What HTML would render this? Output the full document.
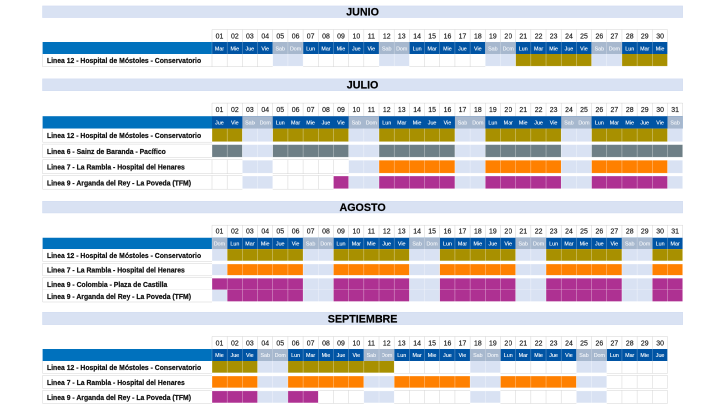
<!DOCTYPE html>
<html lang="es"><head><meta charset="utf-8"><title>Calendario de obras - Metro</title>
<style>
html,body{margin:0;padding:0;background:#fff;}
body{width:720px;height:405px;overflow:hidden;position:relative;font-family:"Liberation Sans",sans-serif;}
#outer{position:absolute;left:0;top:0;width:1440px;height:810px;transform:scale(.5);transform-origin:0 0;will-change:transform;background:#fff;}
#stage{position:absolute;left:0;top:0;width:1920px;height:1080px;transform:scale(.75);transform-origin:0 0;}
#stage svg{position:absolute;left:0;top:0;}
.t{position:absolute;white-space:nowrap;overflow:visible;}
.title{text-align:center;font-weight:bold;font-size:28.6px;color:#000;margin-top:0px;-webkit-text-stroke:0.5px #000;}
.num{text-align:center;font-size:19px;color:#222;transform:scaleX(.97);margin-top:0.3px;-webkit-text-stroke:0.5px #222;}
.dn{text-align:center;font-size:15px;color:#fff;transform:scaleX(.95);margin-top:0.5px;-webkit-text-stroke:0.3px currentColor;}
.dn.we{color:#f2f5f9;}
.lab{font-weight:bold;font-size:19.3px;color:#111;text-indent:13px;transform:scaleX(.945);transform-origin:0 50%;margin-top:2px;-webkit-text-stroke:0.6px #111;}
</style></head><body>
<div id="outer"><div id="stage">
<svg width="1920" height="1080" viewBox="0 0 720 405">
<rect x="42.30" y="5.70" width="640.60" height="12.10" fill="#D9E2F3"/>
<rect x="42.60" y="6.00" width="640.00" height="11.50" fill="none" stroke="#cfdaf0" stroke-width="0.4"/>
<line x1="212.00" y1="29.60" x2="667.49" y2="29.60" stroke="#c8c8c8" stroke-width="0.4"/>
<line x1="212.00" y1="29.60" x2="212.00" y2="42.00" stroke="#c8c8c8" stroke-width="0.4"/>
<line x1="227.18" y1="29.60" x2="227.18" y2="42.00" stroke="#c8c8c8" stroke-width="0.4"/>
<line x1="242.37" y1="29.60" x2="242.37" y2="42.00" stroke="#c8c8c8" stroke-width="0.4"/>
<line x1="257.55" y1="29.60" x2="257.55" y2="42.00" stroke="#c8c8c8" stroke-width="0.4"/>
<line x1="272.73" y1="29.60" x2="272.73" y2="42.00" stroke="#c8c8c8" stroke-width="0.4"/>
<line x1="287.91" y1="29.60" x2="287.91" y2="42.00" stroke="#c8c8c8" stroke-width="0.4"/>
<line x1="303.10" y1="29.60" x2="303.10" y2="42.00" stroke="#c8c8c8" stroke-width="0.4"/>
<line x1="318.28" y1="29.60" x2="318.28" y2="42.00" stroke="#c8c8c8" stroke-width="0.4"/>
<line x1="333.46" y1="29.60" x2="333.46" y2="42.00" stroke="#c8c8c8" stroke-width="0.4"/>
<line x1="348.65" y1="29.60" x2="348.65" y2="42.00" stroke="#c8c8c8" stroke-width="0.4"/>
<line x1="363.83" y1="29.60" x2="363.83" y2="42.00" stroke="#c8c8c8" stroke-width="0.4"/>
<line x1="379.01" y1="29.60" x2="379.01" y2="42.00" stroke="#c8c8c8" stroke-width="0.4"/>
<line x1="394.20" y1="29.60" x2="394.20" y2="42.00" stroke="#c8c8c8" stroke-width="0.4"/>
<line x1="409.38" y1="29.60" x2="409.38" y2="42.00" stroke="#c8c8c8" stroke-width="0.4"/>
<line x1="424.56" y1="29.60" x2="424.56" y2="42.00" stroke="#c8c8c8" stroke-width="0.4"/>
<line x1="439.75" y1="29.60" x2="439.75" y2="42.00" stroke="#c8c8c8" stroke-width="0.4"/>
<line x1="454.93" y1="29.60" x2="454.93" y2="42.00" stroke="#c8c8c8" stroke-width="0.4"/>
<line x1="470.11" y1="29.60" x2="470.11" y2="42.00" stroke="#c8c8c8" stroke-width="0.4"/>
<line x1="485.29" y1="29.60" x2="485.29" y2="42.00" stroke="#c8c8c8" stroke-width="0.4"/>
<line x1="500.48" y1="29.60" x2="500.48" y2="42.00" stroke="#c8c8c8" stroke-width="0.4"/>
<line x1="515.66" y1="29.60" x2="515.66" y2="42.00" stroke="#c8c8c8" stroke-width="0.4"/>
<line x1="530.84" y1="29.60" x2="530.84" y2="42.00" stroke="#c8c8c8" stroke-width="0.4"/>
<line x1="546.03" y1="29.60" x2="546.03" y2="42.00" stroke="#c8c8c8" stroke-width="0.4"/>
<line x1="561.21" y1="29.60" x2="561.21" y2="42.00" stroke="#c8c8c8" stroke-width="0.4"/>
<line x1="576.39" y1="29.60" x2="576.39" y2="42.00" stroke="#c8c8c8" stroke-width="0.4"/>
<line x1="591.58" y1="29.60" x2="591.58" y2="42.00" stroke="#c8c8c8" stroke-width="0.4"/>
<line x1="606.76" y1="29.60" x2="606.76" y2="42.00" stroke="#c8c8c8" stroke-width="0.4"/>
<line x1="621.94" y1="29.60" x2="621.94" y2="42.00" stroke="#c8c8c8" stroke-width="0.4"/>
<line x1="637.12" y1="29.60" x2="637.12" y2="42.00" stroke="#c8c8c8" stroke-width="0.4"/>
<line x1="652.31" y1="29.60" x2="652.31" y2="42.00" stroke="#c8c8c8" stroke-width="0.4"/>
<line x1="667.49" y1="29.60" x2="667.49" y2="42.00" stroke="#c8c8c8" stroke-width="0.4"/>
<rect x="42.60" y="42.00" width="169.40" height="12.00" fill="#0071BD"/>
<rect x="212.00" y="42.00" width="455.49" height="12.00" fill="#0054A4"/>
<rect x="272.73" y="42.00" width="30.37" height="12.00" fill="#A7B8CE"/>
<rect x="379.01" y="42.00" width="30.37" height="12.00" fill="#A7B8CE"/>
<rect x="485.29" y="42.00" width="30.37" height="12.00" fill="#A7B8CE"/>
<rect x="591.58" y="42.00" width="30.37" height="12.00" fill="#A7B8CE"/>
<line x1="212.00" y1="42.00" x2="212.00" y2="54.00" stroke="rgba(255,255,255,0.55)" stroke-width="0.4"/>
<line x1="227.18" y1="42.00" x2="227.18" y2="54.00" stroke="rgba(255,255,255,0.55)" stroke-width="0.4"/>
<line x1="242.37" y1="42.00" x2="242.37" y2="54.00" stroke="rgba(255,255,255,0.55)" stroke-width="0.4"/>
<line x1="257.55" y1="42.00" x2="257.55" y2="54.00" stroke="rgba(255,255,255,0.55)" stroke-width="0.4"/>
<line x1="272.73" y1="42.00" x2="272.73" y2="54.00" stroke="rgba(255,255,255,0.55)" stroke-width="0.4"/>
<line x1="287.91" y1="42.00" x2="287.91" y2="54.00" stroke="rgba(255,255,255,0.55)" stroke-width="0.4"/>
<line x1="303.10" y1="42.00" x2="303.10" y2="54.00" stroke="rgba(255,255,255,0.55)" stroke-width="0.4"/>
<line x1="318.28" y1="42.00" x2="318.28" y2="54.00" stroke="rgba(255,255,255,0.55)" stroke-width="0.4"/>
<line x1="333.46" y1="42.00" x2="333.46" y2="54.00" stroke="rgba(255,255,255,0.55)" stroke-width="0.4"/>
<line x1="348.65" y1="42.00" x2="348.65" y2="54.00" stroke="rgba(255,255,255,0.55)" stroke-width="0.4"/>
<line x1="363.83" y1="42.00" x2="363.83" y2="54.00" stroke="rgba(255,255,255,0.55)" stroke-width="0.4"/>
<line x1="379.01" y1="42.00" x2="379.01" y2="54.00" stroke="rgba(255,255,255,0.55)" stroke-width="0.4"/>
<line x1="394.20" y1="42.00" x2="394.20" y2="54.00" stroke="rgba(255,255,255,0.55)" stroke-width="0.4"/>
<line x1="409.38" y1="42.00" x2="409.38" y2="54.00" stroke="rgba(255,255,255,0.55)" stroke-width="0.4"/>
<line x1="424.56" y1="42.00" x2="424.56" y2="54.00" stroke="rgba(255,255,255,0.55)" stroke-width="0.4"/>
<line x1="439.75" y1="42.00" x2="439.75" y2="54.00" stroke="rgba(255,255,255,0.55)" stroke-width="0.4"/>
<line x1="454.93" y1="42.00" x2="454.93" y2="54.00" stroke="rgba(255,255,255,0.55)" stroke-width="0.4"/>
<line x1="470.11" y1="42.00" x2="470.11" y2="54.00" stroke="rgba(255,255,255,0.55)" stroke-width="0.4"/>
<line x1="485.29" y1="42.00" x2="485.29" y2="54.00" stroke="rgba(255,255,255,0.55)" stroke-width="0.4"/>
<line x1="500.48" y1="42.00" x2="500.48" y2="54.00" stroke="rgba(255,255,255,0.55)" stroke-width="0.4"/>
<line x1="515.66" y1="42.00" x2="515.66" y2="54.00" stroke="rgba(255,255,255,0.55)" stroke-width="0.4"/>
<line x1="530.84" y1="42.00" x2="530.84" y2="54.00" stroke="rgba(255,255,255,0.55)" stroke-width="0.4"/>
<line x1="546.03" y1="42.00" x2="546.03" y2="54.00" stroke="rgba(255,255,255,0.55)" stroke-width="0.4"/>
<line x1="561.21" y1="42.00" x2="561.21" y2="54.00" stroke="rgba(255,255,255,0.55)" stroke-width="0.4"/>
<line x1="576.39" y1="42.00" x2="576.39" y2="54.00" stroke="rgba(255,255,255,0.55)" stroke-width="0.4"/>
<line x1="591.58" y1="42.00" x2="591.58" y2="54.00" stroke="rgba(255,255,255,0.55)" stroke-width="0.4"/>
<line x1="606.76" y1="42.00" x2="606.76" y2="54.00" stroke="rgba(255,255,255,0.55)" stroke-width="0.4"/>
<line x1="621.94" y1="42.00" x2="621.94" y2="54.00" stroke="rgba(255,255,255,0.55)" stroke-width="0.4"/>
<line x1="637.12" y1="42.00" x2="637.12" y2="54.00" stroke="rgba(255,255,255,0.55)" stroke-width="0.4"/>
<line x1="652.31" y1="42.00" x2="652.31" y2="54.00" stroke="rgba(255,255,255,0.55)" stroke-width="0.4"/>
<line x1="667.49" y1="42.00" x2="667.49" y2="54.00" stroke="rgba(255,255,255,0.55)" stroke-width="0.4"/>
<rect x="42.60" y="54.00" width="169.40" height="12.20" fill="#fff"/>
<rect x="272.73" y="54.00" width="30.37" height="12.20" fill="#D9E2F3"/>
<rect x="379.01" y="54.00" width="30.37" height="12.20" fill="#D9E2F3"/>
<rect x="485.29" y="54.00" width="30.37" height="12.20" fill="#D9E2F3"/>
<rect x="515.66" y="54.00" width="75.91" height="12.20" fill="#A89000"/>
<rect x="591.58" y="54.00" width="30.37" height="12.20" fill="#D9E2F3"/>
<rect x="621.94" y="54.00" width="45.55" height="12.20" fill="#A89000"/>
<line x1="42.60" y1="66.70" x2="212.00" y2="66.70" stroke="#c8c8c8" stroke-width="0.4"/>
<line x1="212.00" y1="66.70" x2="272.73" y2="66.70" stroke="#c8c8c8" stroke-width="0.4"/>
<line x1="272.73" y1="66.20" x2="303.10" y2="66.20" stroke="rgba(255,255,255,0.75)" stroke-width="0.4"/>
<line x1="303.10" y1="66.70" x2="379.01" y2="66.70" stroke="#c8c8c8" stroke-width="0.4"/>
<line x1="379.01" y1="66.20" x2="409.38" y2="66.20" stroke="rgba(255,255,255,0.75)" stroke-width="0.4"/>
<line x1="409.38" y1="66.70" x2="485.29" y2="66.70" stroke="#c8c8c8" stroke-width="0.4"/>
<line x1="485.29" y1="66.20" x2="667.49" y2="66.20" stroke="rgba(255,255,255,0.75)" stroke-width="0.4"/>
<line x1="42.60" y1="54.00" x2="42.60" y2="66.70" stroke="#c8c8c8" stroke-width="0.4"/>
<line x1="212.00" y1="54.00" x2="212.00" y2="66.70" stroke="#c8c8c8" stroke-width="0.4"/>
<line x1="227.18" y1="54.00" x2="227.18" y2="66.70" stroke="#c8c8c8" stroke-width="0.4"/>
<line x1="242.37" y1="54.00" x2="242.37" y2="66.70" stroke="#c8c8c8" stroke-width="0.4"/>
<line x1="257.55" y1="54.00" x2="257.55" y2="66.70" stroke="#c8c8c8" stroke-width="0.4"/>
<line x1="272.73" y1="54.00" x2="272.73" y2="66.20" stroke="rgba(255,255,255,0.75)" stroke-width="0.4"/>
<line x1="287.91" y1="54.00" x2="287.91" y2="66.20" stroke="rgba(255,255,255,0.75)" stroke-width="0.4"/>
<line x1="303.10" y1="54.00" x2="303.10" y2="66.20" stroke="rgba(255,255,255,0.75)" stroke-width="0.4"/>
<line x1="318.28" y1="54.00" x2="318.28" y2="66.70" stroke="#c8c8c8" stroke-width="0.4"/>
<line x1="333.46" y1="54.00" x2="333.46" y2="66.70" stroke="#c8c8c8" stroke-width="0.4"/>
<line x1="348.65" y1="54.00" x2="348.65" y2="66.70" stroke="#c8c8c8" stroke-width="0.4"/>
<line x1="363.83" y1="54.00" x2="363.83" y2="66.70" stroke="#c8c8c8" stroke-width="0.4"/>
<line x1="379.01" y1="54.00" x2="379.01" y2="66.20" stroke="rgba(255,255,255,0.75)" stroke-width="0.4"/>
<line x1="394.20" y1="54.00" x2="394.20" y2="66.20" stroke="rgba(255,255,255,0.75)" stroke-width="0.4"/>
<line x1="409.38" y1="54.00" x2="409.38" y2="66.20" stroke="rgba(255,255,255,0.75)" stroke-width="0.4"/>
<line x1="424.56" y1="54.00" x2="424.56" y2="66.70" stroke="#c8c8c8" stroke-width="0.4"/>
<line x1="439.75" y1="54.00" x2="439.75" y2="66.70" stroke="#c8c8c8" stroke-width="0.4"/>
<line x1="454.93" y1="54.00" x2="454.93" y2="66.70" stroke="#c8c8c8" stroke-width="0.4"/>
<line x1="470.11" y1="54.00" x2="470.11" y2="66.70" stroke="#c8c8c8" stroke-width="0.4"/>
<line x1="485.29" y1="54.00" x2="485.29" y2="66.20" stroke="rgba(255,255,255,0.75)" stroke-width="0.4"/>
<line x1="500.48" y1="54.00" x2="500.48" y2="66.20" stroke="rgba(255,255,255,0.75)" stroke-width="0.4"/>
<line x1="515.66" y1="54.00" x2="515.66" y2="66.20" stroke="rgba(255,255,255,0.75)" stroke-width="0.4"/>
<line x1="530.84" y1="54.00" x2="530.84" y2="66.20" stroke="rgba(255,255,255,0.75)" stroke-width="0.4"/>
<line x1="546.03" y1="54.00" x2="546.03" y2="66.20" stroke="rgba(255,255,255,0.75)" stroke-width="0.4"/>
<line x1="561.21" y1="54.00" x2="561.21" y2="66.20" stroke="rgba(255,255,255,0.75)" stroke-width="0.4"/>
<line x1="576.39" y1="54.00" x2="576.39" y2="66.20" stroke="rgba(255,255,255,0.75)" stroke-width="0.4"/>
<line x1="591.58" y1="54.00" x2="591.58" y2="66.20" stroke="rgba(255,255,255,0.75)" stroke-width="0.4"/>
<line x1="606.76" y1="54.00" x2="606.76" y2="66.20" stroke="rgba(255,255,255,0.75)" stroke-width="0.4"/>
<line x1="621.94" y1="54.00" x2="621.94" y2="66.20" stroke="rgba(255,255,255,0.75)" stroke-width="0.4"/>
<line x1="637.12" y1="54.00" x2="637.12" y2="66.20" stroke="rgba(255,255,255,0.75)" stroke-width="0.4"/>
<line x1="652.31" y1="54.00" x2="652.31" y2="66.20" stroke="rgba(255,255,255,0.75)" stroke-width="0.4"/>
<line x1="667.49" y1="54.00" x2="667.49" y2="66.20" stroke="rgba(255,255,255,0.75)" stroke-width="0.4"/>
<rect x="42.30" y="78.60" width="640.60" height="12.40" fill="#D9E2F3"/>
<rect x="42.60" y="78.90" width="640.00" height="11.80" fill="none" stroke="#cfdaf0" stroke-width="0.4"/>
<line x1="212.00" y1="103.10" x2="682.67" y2="103.10" stroke="#c8c8c8" stroke-width="0.4"/>
<line x1="212.00" y1="103.10" x2="212.00" y2="116.20" stroke="#c8c8c8" stroke-width="0.4"/>
<line x1="227.18" y1="103.10" x2="227.18" y2="116.20" stroke="#c8c8c8" stroke-width="0.4"/>
<line x1="242.37" y1="103.10" x2="242.37" y2="116.20" stroke="#c8c8c8" stroke-width="0.4"/>
<line x1="257.55" y1="103.10" x2="257.55" y2="116.20" stroke="#c8c8c8" stroke-width="0.4"/>
<line x1="272.73" y1="103.10" x2="272.73" y2="116.20" stroke="#c8c8c8" stroke-width="0.4"/>
<line x1="287.91" y1="103.10" x2="287.91" y2="116.20" stroke="#c8c8c8" stroke-width="0.4"/>
<line x1="303.10" y1="103.10" x2="303.10" y2="116.20" stroke="#c8c8c8" stroke-width="0.4"/>
<line x1="318.28" y1="103.10" x2="318.28" y2="116.20" stroke="#c8c8c8" stroke-width="0.4"/>
<line x1="333.46" y1="103.10" x2="333.46" y2="116.20" stroke="#c8c8c8" stroke-width="0.4"/>
<line x1="348.65" y1="103.10" x2="348.65" y2="116.20" stroke="#c8c8c8" stroke-width="0.4"/>
<line x1="363.83" y1="103.10" x2="363.83" y2="116.20" stroke="#c8c8c8" stroke-width="0.4"/>
<line x1="379.01" y1="103.10" x2="379.01" y2="116.20" stroke="#c8c8c8" stroke-width="0.4"/>
<line x1="394.20" y1="103.10" x2="394.20" y2="116.20" stroke="#c8c8c8" stroke-width="0.4"/>
<line x1="409.38" y1="103.10" x2="409.38" y2="116.20" stroke="#c8c8c8" stroke-width="0.4"/>
<line x1="424.56" y1="103.10" x2="424.56" y2="116.20" stroke="#c8c8c8" stroke-width="0.4"/>
<line x1="439.75" y1="103.10" x2="439.75" y2="116.20" stroke="#c8c8c8" stroke-width="0.4"/>
<line x1="454.93" y1="103.10" x2="454.93" y2="116.20" stroke="#c8c8c8" stroke-width="0.4"/>
<line x1="470.11" y1="103.10" x2="470.11" y2="116.20" stroke="#c8c8c8" stroke-width="0.4"/>
<line x1="485.29" y1="103.10" x2="485.29" y2="116.20" stroke="#c8c8c8" stroke-width="0.4"/>
<line x1="500.48" y1="103.10" x2="500.48" y2="116.20" stroke="#c8c8c8" stroke-width="0.4"/>
<line x1="515.66" y1="103.10" x2="515.66" y2="116.20" stroke="#c8c8c8" stroke-width="0.4"/>
<line x1="530.84" y1="103.10" x2="530.84" y2="116.20" stroke="#c8c8c8" stroke-width="0.4"/>
<line x1="546.03" y1="103.10" x2="546.03" y2="116.20" stroke="#c8c8c8" stroke-width="0.4"/>
<line x1="561.21" y1="103.10" x2="561.21" y2="116.20" stroke="#c8c8c8" stroke-width="0.4"/>
<line x1="576.39" y1="103.10" x2="576.39" y2="116.20" stroke="#c8c8c8" stroke-width="0.4"/>
<line x1="591.58" y1="103.10" x2="591.58" y2="116.20" stroke="#c8c8c8" stroke-width="0.4"/>
<line x1="606.76" y1="103.10" x2="606.76" y2="116.20" stroke="#c8c8c8" stroke-width="0.4"/>
<line x1="621.94" y1="103.10" x2="621.94" y2="116.20" stroke="#c8c8c8" stroke-width="0.4"/>
<line x1="637.12" y1="103.10" x2="637.12" y2="116.20" stroke="#c8c8c8" stroke-width="0.4"/>
<line x1="652.31" y1="103.10" x2="652.31" y2="116.20" stroke="#c8c8c8" stroke-width="0.4"/>
<line x1="667.49" y1="103.10" x2="667.49" y2="116.20" stroke="#c8c8c8" stroke-width="0.4"/>
<line x1="682.67" y1="103.10" x2="682.67" y2="116.20" stroke="#c8c8c8" stroke-width="0.4"/>
<rect x="42.60" y="116.20" width="169.40" height="12.40" fill="#0071BD"/>
<rect x="212.00" y="116.20" width="470.67" height="12.40" fill="#0054A4"/>
<rect x="242.37" y="116.20" width="30.37" height="12.40" fill="#A7B8CE"/>
<rect x="348.65" y="116.20" width="30.37" height="12.40" fill="#A7B8CE"/>
<rect x="454.93" y="116.20" width="30.37" height="12.40" fill="#A7B8CE"/>
<rect x="561.21" y="116.20" width="30.37" height="12.40" fill="#A7B8CE"/>
<rect x="667.49" y="116.20" width="15.18" height="12.40" fill="#A7B8CE"/>
<rect x="42.60" y="128.60" width="169.40" height="13.10" fill="#fff"/>
<rect x="212.00" y="128.60" width="30.37" height="13.10" fill="#A89000"/>
<rect x="242.37" y="128.60" width="30.37" height="13.10" fill="#D9E2F3"/>
<rect x="272.73" y="128.60" width="75.91" height="13.10" fill="#A89000"/>
<rect x="348.65" y="128.60" width="30.37" height="13.10" fill="#D9E2F3"/>
<rect x="379.01" y="128.60" width="75.91" height="13.10" fill="#A89000"/>
<rect x="454.93" y="128.60" width="30.37" height="13.10" fill="#D9E2F3"/>
<rect x="485.29" y="128.60" width="75.91" height="13.10" fill="#A89000"/>
<rect x="561.21" y="128.60" width="30.37" height="13.10" fill="#D9E2F3"/>
<rect x="591.58" y="128.60" width="75.91" height="13.10" fill="#A89000"/>
<rect x="667.49" y="128.60" width="15.18" height="13.10" fill="#D9E2F3"/>
<line x1="42.60" y1="142.20" x2="212.00" y2="142.20" stroke="#c8c8c8" stroke-width="0.4"/>
<line x1="212.00" y1="141.70" x2="682.67" y2="141.70" stroke="rgba(255,255,255,0.75)" stroke-width="0.4"/>
<line x1="42.60" y1="128.60" x2="42.60" y2="142.20" stroke="#c8c8c8" stroke-width="0.4"/>
<line x1="212.00" y1="128.60" x2="212.00" y2="141.70" stroke="rgba(255,255,255,0.75)" stroke-width="0.4"/>
<line x1="227.18" y1="128.60" x2="227.18" y2="141.70" stroke="rgba(255,255,255,0.75)" stroke-width="0.4"/>
<line x1="242.37" y1="128.60" x2="242.37" y2="141.70" stroke="rgba(255,255,255,0.75)" stroke-width="0.4"/>
<line x1="257.55" y1="128.60" x2="257.55" y2="141.70" stroke="rgba(255,255,255,0.75)" stroke-width="0.4"/>
<line x1="272.73" y1="128.60" x2="272.73" y2="141.70" stroke="rgba(255,255,255,0.75)" stroke-width="0.4"/>
<line x1="287.91" y1="128.60" x2="287.91" y2="141.70" stroke="rgba(255,255,255,0.75)" stroke-width="0.4"/>
<line x1="303.10" y1="128.60" x2="303.10" y2="141.70" stroke="rgba(255,255,255,0.75)" stroke-width="0.4"/>
<line x1="318.28" y1="128.60" x2="318.28" y2="141.70" stroke="rgba(255,255,255,0.75)" stroke-width="0.4"/>
<line x1="333.46" y1="128.60" x2="333.46" y2="141.70" stroke="rgba(255,255,255,0.75)" stroke-width="0.4"/>
<line x1="348.65" y1="128.60" x2="348.65" y2="141.70" stroke="rgba(255,255,255,0.75)" stroke-width="0.4"/>
<line x1="363.83" y1="128.60" x2="363.83" y2="141.70" stroke="rgba(255,255,255,0.75)" stroke-width="0.4"/>
<line x1="379.01" y1="128.60" x2="379.01" y2="141.70" stroke="rgba(255,255,255,0.75)" stroke-width="0.4"/>
<line x1="394.20" y1="128.60" x2="394.20" y2="141.70" stroke="rgba(255,255,255,0.75)" stroke-width="0.4"/>
<line x1="409.38" y1="128.60" x2="409.38" y2="141.70" stroke="rgba(255,255,255,0.75)" stroke-width="0.4"/>
<line x1="424.56" y1="128.60" x2="424.56" y2="141.70" stroke="rgba(255,255,255,0.75)" stroke-width="0.4"/>
<line x1="439.75" y1="128.60" x2="439.75" y2="141.70" stroke="rgba(255,255,255,0.75)" stroke-width="0.4"/>
<line x1="454.93" y1="128.60" x2="454.93" y2="141.70" stroke="rgba(255,255,255,0.75)" stroke-width="0.4"/>
<line x1="470.11" y1="128.60" x2="470.11" y2="141.70" stroke="rgba(255,255,255,0.75)" stroke-width="0.4"/>
<line x1="485.29" y1="128.60" x2="485.29" y2="141.70" stroke="rgba(255,255,255,0.75)" stroke-width="0.4"/>
<line x1="500.48" y1="128.60" x2="500.48" y2="141.70" stroke="rgba(255,255,255,0.75)" stroke-width="0.4"/>
<line x1="515.66" y1="128.60" x2="515.66" y2="141.70" stroke="rgba(255,255,255,0.75)" stroke-width="0.4"/>
<line x1="530.84" y1="128.60" x2="530.84" y2="141.70" stroke="rgba(255,255,255,0.75)" stroke-width="0.4"/>
<line x1="546.03" y1="128.60" x2="546.03" y2="141.70" stroke="rgba(255,255,255,0.75)" stroke-width="0.4"/>
<line x1="561.21" y1="128.60" x2="561.21" y2="141.70" stroke="rgba(255,255,255,0.75)" stroke-width="0.4"/>
<line x1="576.39" y1="128.60" x2="576.39" y2="141.70" stroke="rgba(255,255,255,0.75)" stroke-width="0.4"/>
<line x1="591.58" y1="128.60" x2="591.58" y2="141.70" stroke="rgba(255,255,255,0.75)" stroke-width="0.4"/>
<line x1="606.76" y1="128.60" x2="606.76" y2="141.70" stroke="rgba(255,255,255,0.75)" stroke-width="0.4"/>
<line x1="621.94" y1="128.60" x2="621.94" y2="141.70" stroke="rgba(255,255,255,0.75)" stroke-width="0.4"/>
<line x1="637.12" y1="128.60" x2="637.12" y2="141.70" stroke="rgba(255,255,255,0.75)" stroke-width="0.4"/>
<line x1="652.31" y1="128.60" x2="652.31" y2="141.70" stroke="rgba(255,255,255,0.75)" stroke-width="0.4"/>
<line x1="667.49" y1="128.60" x2="667.49" y2="141.70" stroke="rgba(255,255,255,0.75)" stroke-width="0.4"/>
<line x1="682.67" y1="128.60" x2="682.67" y2="141.70" stroke="rgba(255,255,255,0.75)" stroke-width="0.4"/>
<rect x="42.60" y="144.60" width="169.40" height="12.60" fill="#fff"/>
<rect x="212.00" y="144.60" width="30.37" height="12.60" fill="#6E7F86"/>
<rect x="242.37" y="144.60" width="30.37" height="12.60" fill="#D9E2F3"/>
<rect x="272.73" y="144.60" width="75.91" height="12.60" fill="#6E7F86"/>
<rect x="348.65" y="144.60" width="30.37" height="12.60" fill="#D9E2F3"/>
<rect x="379.01" y="144.60" width="75.91" height="12.60" fill="#6E7F86"/>
<rect x="454.93" y="144.60" width="30.37" height="12.60" fill="#D9E2F3"/>
<rect x="485.29" y="144.60" width="75.91" height="12.60" fill="#6E7F86"/>
<rect x="561.21" y="144.60" width="30.37" height="12.60" fill="#D9E2F3"/>
<rect x="591.58" y="144.60" width="91.10" height="12.60" fill="#6E7F86"/>
<line x1="42.60" y1="144.10" x2="212.00" y2="144.10" stroke="#c8c8c8" stroke-width="0.4"/>
<line x1="212.00" y1="144.60" x2="682.67" y2="144.60" stroke="rgba(255,255,255,0.75)" stroke-width="0.4"/>
<line x1="42.60" y1="157.70" x2="212.00" y2="157.70" stroke="#c8c8c8" stroke-width="0.4"/>
<line x1="212.00" y1="157.20" x2="682.67" y2="157.20" stroke="rgba(255,255,255,0.75)" stroke-width="0.4"/>
<line x1="42.60" y1="144.10" x2="42.60" y2="157.70" stroke="#c8c8c8" stroke-width="0.4"/>
<line x1="212.00" y1="144.60" x2="212.00" y2="157.20" stroke="rgba(255,255,255,0.75)" stroke-width="0.4"/>
<line x1="227.18" y1="144.60" x2="227.18" y2="157.20" stroke="rgba(255,255,255,0.75)" stroke-width="0.4"/>
<line x1="242.37" y1="144.60" x2="242.37" y2="157.20" stroke="rgba(255,255,255,0.75)" stroke-width="0.4"/>
<line x1="257.55" y1="144.60" x2="257.55" y2="157.20" stroke="rgba(255,255,255,0.75)" stroke-width="0.4"/>
<line x1="272.73" y1="144.60" x2="272.73" y2="157.20" stroke="rgba(255,255,255,0.75)" stroke-width="0.4"/>
<line x1="287.91" y1="144.60" x2="287.91" y2="157.20" stroke="rgba(255,255,255,0.75)" stroke-width="0.4"/>
<line x1="303.10" y1="144.60" x2="303.10" y2="157.20" stroke="rgba(255,255,255,0.75)" stroke-width="0.4"/>
<line x1="318.28" y1="144.60" x2="318.28" y2="157.20" stroke="rgba(255,255,255,0.75)" stroke-width="0.4"/>
<line x1="333.46" y1="144.60" x2="333.46" y2="157.20" stroke="rgba(255,255,255,0.75)" stroke-width="0.4"/>
<line x1="348.65" y1="144.60" x2="348.65" y2="157.20" stroke="rgba(255,255,255,0.75)" stroke-width="0.4"/>
<line x1="363.83" y1="144.60" x2="363.83" y2="157.20" stroke="rgba(255,255,255,0.75)" stroke-width="0.4"/>
<line x1="379.01" y1="144.60" x2="379.01" y2="157.20" stroke="rgba(255,255,255,0.75)" stroke-width="0.4"/>
<line x1="394.20" y1="144.60" x2="394.20" y2="157.20" stroke="rgba(255,255,255,0.75)" stroke-width="0.4"/>
<line x1="409.38" y1="144.60" x2="409.38" y2="157.20" stroke="rgba(255,255,255,0.75)" stroke-width="0.4"/>
<line x1="424.56" y1="144.60" x2="424.56" y2="157.20" stroke="rgba(255,255,255,0.75)" stroke-width="0.4"/>
<line x1="439.75" y1="144.60" x2="439.75" y2="157.20" stroke="rgba(255,255,255,0.75)" stroke-width="0.4"/>
<line x1="454.93" y1="144.60" x2="454.93" y2="157.20" stroke="rgba(255,255,255,0.75)" stroke-width="0.4"/>
<line x1="470.11" y1="144.60" x2="470.11" y2="157.20" stroke="rgba(255,255,255,0.75)" stroke-width="0.4"/>
<line x1="485.29" y1="144.60" x2="485.29" y2="157.20" stroke="rgba(255,255,255,0.75)" stroke-width="0.4"/>
<line x1="500.48" y1="144.60" x2="500.48" y2="157.20" stroke="rgba(255,255,255,0.75)" stroke-width="0.4"/>
<line x1="515.66" y1="144.60" x2="515.66" y2="157.20" stroke="rgba(255,255,255,0.75)" stroke-width="0.4"/>
<line x1="530.84" y1="144.60" x2="530.84" y2="157.20" stroke="rgba(255,255,255,0.75)" stroke-width="0.4"/>
<line x1="546.03" y1="144.60" x2="546.03" y2="157.20" stroke="rgba(255,255,255,0.75)" stroke-width="0.4"/>
<line x1="561.21" y1="144.60" x2="561.21" y2="157.20" stroke="rgba(255,255,255,0.75)" stroke-width="0.4"/>
<line x1="576.39" y1="144.60" x2="576.39" y2="157.20" stroke="rgba(255,255,255,0.75)" stroke-width="0.4"/>
<line x1="591.58" y1="144.60" x2="591.58" y2="157.20" stroke="rgba(255,255,255,0.75)" stroke-width="0.4"/>
<line x1="606.76" y1="144.60" x2="606.76" y2="157.20" stroke="rgba(255,255,255,0.75)" stroke-width="0.4"/>
<line x1="621.94" y1="144.60" x2="621.94" y2="157.20" stroke="rgba(255,255,255,0.75)" stroke-width="0.4"/>
<line x1="637.12" y1="144.60" x2="637.12" y2="157.20" stroke="rgba(255,255,255,0.75)" stroke-width="0.4"/>
<line x1="652.31" y1="144.60" x2="652.31" y2="157.20" stroke="rgba(255,255,255,0.75)" stroke-width="0.4"/>
<line x1="667.49" y1="144.60" x2="667.49" y2="157.20" stroke="rgba(255,255,255,0.75)" stroke-width="0.4"/>
<line x1="682.67" y1="144.60" x2="682.67" y2="157.20" stroke="rgba(255,255,255,0.75)" stroke-width="0.4"/>
<rect x="42.60" y="160.20" width="169.40" height="13.00" fill="#fff"/>
<rect x="242.37" y="160.20" width="30.37" height="13.00" fill="#D9E2F3"/>
<rect x="348.65" y="160.20" width="30.37" height="13.00" fill="#D9E2F3"/>
<rect x="379.01" y="160.20" width="75.91" height="13.00" fill="#FF8000"/>
<rect x="454.93" y="160.20" width="30.37" height="13.00" fill="#D9E2F3"/>
<rect x="485.29" y="160.20" width="75.91" height="13.00" fill="#FF8000"/>
<rect x="561.21" y="160.20" width="30.37" height="13.00" fill="#D9E2F3"/>
<rect x="591.58" y="160.20" width="75.91" height="13.00" fill="#FF8000"/>
<rect x="667.49" y="160.20" width="15.18" height="13.00" fill="#D9E2F3"/>
<line x1="42.60" y1="159.70" x2="212.00" y2="159.70" stroke="#c8c8c8" stroke-width="0.4"/>
<line x1="212.00" y1="159.70" x2="242.37" y2="159.70" stroke="#c8c8c8" stroke-width="0.4"/>
<line x1="242.37" y1="160.20" x2="272.73" y2="160.20" stroke="rgba(255,255,255,0.75)" stroke-width="0.4"/>
<line x1="272.73" y1="159.70" x2="348.65" y2="159.70" stroke="#c8c8c8" stroke-width="0.4"/>
<line x1="348.65" y1="160.20" x2="682.67" y2="160.20" stroke="rgba(255,255,255,0.75)" stroke-width="0.4"/>
<line x1="42.60" y1="173.70" x2="212.00" y2="173.70" stroke="#c8c8c8" stroke-width="0.4"/>
<line x1="212.00" y1="173.70" x2="242.37" y2="173.70" stroke="#c8c8c8" stroke-width="0.4"/>
<line x1="242.37" y1="173.20" x2="272.73" y2="173.20" stroke="rgba(255,255,255,0.75)" stroke-width="0.4"/>
<line x1="272.73" y1="173.70" x2="348.65" y2="173.70" stroke="#c8c8c8" stroke-width="0.4"/>
<line x1="348.65" y1="173.20" x2="682.67" y2="173.20" stroke="rgba(255,255,255,0.75)" stroke-width="0.4"/>
<line x1="42.60" y1="159.70" x2="42.60" y2="173.70" stroke="#c8c8c8" stroke-width="0.4"/>
<line x1="212.00" y1="159.70" x2="212.00" y2="173.70" stroke="#c8c8c8" stroke-width="0.4"/>
<line x1="227.18" y1="159.70" x2="227.18" y2="173.70" stroke="#c8c8c8" stroke-width="0.4"/>
<line x1="242.37" y1="160.20" x2="242.37" y2="173.20" stroke="rgba(255,255,255,0.75)" stroke-width="0.4"/>
<line x1="257.55" y1="160.20" x2="257.55" y2="173.20" stroke="rgba(255,255,255,0.75)" stroke-width="0.4"/>
<line x1="272.73" y1="160.20" x2="272.73" y2="173.20" stroke="rgba(255,255,255,0.75)" stroke-width="0.4"/>
<line x1="287.91" y1="159.70" x2="287.91" y2="173.70" stroke="#c8c8c8" stroke-width="0.4"/>
<line x1="303.10" y1="159.70" x2="303.10" y2="173.70" stroke="#c8c8c8" stroke-width="0.4"/>
<line x1="318.28" y1="159.70" x2="318.28" y2="173.70" stroke="#c8c8c8" stroke-width="0.4"/>
<line x1="333.46" y1="159.70" x2="333.46" y2="173.70" stroke="#c8c8c8" stroke-width="0.4"/>
<line x1="348.65" y1="160.20" x2="348.65" y2="173.20" stroke="rgba(255,255,255,0.75)" stroke-width="0.4"/>
<line x1="363.83" y1="160.20" x2="363.83" y2="173.20" stroke="rgba(255,255,255,0.75)" stroke-width="0.4"/>
<line x1="379.01" y1="160.20" x2="379.01" y2="173.20" stroke="rgba(255,255,255,0.75)" stroke-width="0.4"/>
<line x1="394.20" y1="160.20" x2="394.20" y2="173.20" stroke="rgba(255,255,255,0.75)" stroke-width="0.4"/>
<line x1="409.38" y1="160.20" x2="409.38" y2="173.20" stroke="rgba(255,255,255,0.75)" stroke-width="0.4"/>
<line x1="424.56" y1="160.20" x2="424.56" y2="173.20" stroke="rgba(255,255,255,0.75)" stroke-width="0.4"/>
<line x1="439.75" y1="160.20" x2="439.75" y2="173.20" stroke="rgba(255,255,255,0.75)" stroke-width="0.4"/>
<line x1="454.93" y1="160.20" x2="454.93" y2="173.20" stroke="rgba(255,255,255,0.75)" stroke-width="0.4"/>
<line x1="470.11" y1="160.20" x2="470.11" y2="173.20" stroke="rgba(255,255,255,0.75)" stroke-width="0.4"/>
<line x1="485.29" y1="160.20" x2="485.29" y2="173.20" stroke="rgba(255,255,255,0.75)" stroke-width="0.4"/>
<line x1="500.48" y1="160.20" x2="500.48" y2="173.20" stroke="rgba(255,255,255,0.75)" stroke-width="0.4"/>
<line x1="515.66" y1="160.20" x2="515.66" y2="173.20" stroke="rgba(255,255,255,0.75)" stroke-width="0.4"/>
<line x1="530.84" y1="160.20" x2="530.84" y2="173.20" stroke="rgba(255,255,255,0.75)" stroke-width="0.4"/>
<line x1="546.03" y1="160.20" x2="546.03" y2="173.20" stroke="rgba(255,255,255,0.75)" stroke-width="0.4"/>
<line x1="561.21" y1="160.20" x2="561.21" y2="173.20" stroke="rgba(255,255,255,0.75)" stroke-width="0.4"/>
<line x1="576.39" y1="160.20" x2="576.39" y2="173.20" stroke="rgba(255,255,255,0.75)" stroke-width="0.4"/>
<line x1="591.58" y1="160.20" x2="591.58" y2="173.20" stroke="rgba(255,255,255,0.75)" stroke-width="0.4"/>
<line x1="606.76" y1="160.20" x2="606.76" y2="173.20" stroke="rgba(255,255,255,0.75)" stroke-width="0.4"/>
<line x1="621.94" y1="160.20" x2="621.94" y2="173.20" stroke="rgba(255,255,255,0.75)" stroke-width="0.4"/>
<line x1="637.12" y1="160.20" x2="637.12" y2="173.20" stroke="rgba(255,255,255,0.75)" stroke-width="0.4"/>
<line x1="652.31" y1="160.20" x2="652.31" y2="173.20" stroke="rgba(255,255,255,0.75)" stroke-width="0.4"/>
<line x1="667.49" y1="160.20" x2="667.49" y2="173.20" stroke="rgba(255,255,255,0.75)" stroke-width="0.4"/>
<line x1="682.67" y1="160.20" x2="682.67" y2="173.20" stroke="rgba(255,255,255,0.75)" stroke-width="0.4"/>
<rect x="42.60" y="176.00" width="169.40" height="12.70" fill="#fff"/>
<rect x="242.37" y="176.00" width="30.37" height="12.70" fill="#D9E2F3"/>
<rect x="333.46" y="176.00" width="15.18" height="12.70" fill="#AE3192"/>
<rect x="348.65" y="176.00" width="30.37" height="12.70" fill="#D9E2F3"/>
<rect x="379.01" y="176.00" width="75.91" height="12.70" fill="#AE3192"/>
<rect x="454.93" y="176.00" width="30.37" height="12.70" fill="#D9E2F3"/>
<rect x="485.29" y="176.00" width="75.91" height="12.70" fill="#AE3192"/>
<rect x="561.21" y="176.00" width="30.37" height="12.70" fill="#D9E2F3"/>
<rect x="591.58" y="176.00" width="75.91" height="12.70" fill="#AE3192"/>
<rect x="667.49" y="176.00" width="15.18" height="12.70" fill="#D9E2F3"/>
<line x1="42.60" y1="175.50" x2="212.00" y2="175.50" stroke="#c8c8c8" stroke-width="0.4"/>
<line x1="212.00" y1="175.50" x2="242.37" y2="175.50" stroke="#c8c8c8" stroke-width="0.4"/>
<line x1="242.37" y1="176.00" x2="272.73" y2="176.00" stroke="rgba(255,255,255,0.75)" stroke-width="0.4"/>
<line x1="272.73" y1="175.50" x2="333.46" y2="175.50" stroke="#c8c8c8" stroke-width="0.4"/>
<line x1="333.46" y1="176.00" x2="682.67" y2="176.00" stroke="rgba(255,255,255,0.75)" stroke-width="0.4"/>
<line x1="42.60" y1="189.20" x2="212.00" y2="189.20" stroke="#c8c8c8" stroke-width="0.4"/>
<line x1="212.00" y1="189.20" x2="242.37" y2="189.20" stroke="#c8c8c8" stroke-width="0.4"/>
<line x1="242.37" y1="188.70" x2="272.73" y2="188.70" stroke="rgba(255,255,255,0.75)" stroke-width="0.4"/>
<line x1="272.73" y1="189.20" x2="333.46" y2="189.20" stroke="#c8c8c8" stroke-width="0.4"/>
<line x1="333.46" y1="188.70" x2="682.67" y2="188.70" stroke="rgba(255,255,255,0.75)" stroke-width="0.4"/>
<line x1="42.60" y1="175.50" x2="42.60" y2="189.20" stroke="#c8c8c8" stroke-width="0.4"/>
<line x1="212.00" y1="175.50" x2="212.00" y2="189.20" stroke="#c8c8c8" stroke-width="0.4"/>
<line x1="227.18" y1="175.50" x2="227.18" y2="189.20" stroke="#c8c8c8" stroke-width="0.4"/>
<line x1="242.37" y1="176.00" x2="242.37" y2="188.70" stroke="rgba(255,255,255,0.75)" stroke-width="0.4"/>
<line x1="257.55" y1="176.00" x2="257.55" y2="188.70" stroke="rgba(255,255,255,0.75)" stroke-width="0.4"/>
<line x1="272.73" y1="176.00" x2="272.73" y2="188.70" stroke="rgba(255,255,255,0.75)" stroke-width="0.4"/>
<line x1="287.91" y1="175.50" x2="287.91" y2="189.20" stroke="#c8c8c8" stroke-width="0.4"/>
<line x1="303.10" y1="175.50" x2="303.10" y2="189.20" stroke="#c8c8c8" stroke-width="0.4"/>
<line x1="318.28" y1="175.50" x2="318.28" y2="189.20" stroke="#c8c8c8" stroke-width="0.4"/>
<line x1="333.46" y1="176.00" x2="333.46" y2="188.70" stroke="rgba(255,255,255,0.75)" stroke-width="0.4"/>
<line x1="348.65" y1="176.00" x2="348.65" y2="188.70" stroke="rgba(255,255,255,0.75)" stroke-width="0.4"/>
<line x1="363.83" y1="176.00" x2="363.83" y2="188.70" stroke="rgba(255,255,255,0.75)" stroke-width="0.4"/>
<line x1="379.01" y1="176.00" x2="379.01" y2="188.70" stroke="rgba(255,255,255,0.75)" stroke-width="0.4"/>
<line x1="394.20" y1="176.00" x2="394.20" y2="188.70" stroke="rgba(255,255,255,0.75)" stroke-width="0.4"/>
<line x1="409.38" y1="176.00" x2="409.38" y2="188.70" stroke="rgba(255,255,255,0.75)" stroke-width="0.4"/>
<line x1="424.56" y1="176.00" x2="424.56" y2="188.70" stroke="rgba(255,255,255,0.75)" stroke-width="0.4"/>
<line x1="439.75" y1="176.00" x2="439.75" y2="188.70" stroke="rgba(255,255,255,0.75)" stroke-width="0.4"/>
<line x1="454.93" y1="176.00" x2="454.93" y2="188.70" stroke="rgba(255,255,255,0.75)" stroke-width="0.4"/>
<line x1="470.11" y1="176.00" x2="470.11" y2="188.70" stroke="rgba(255,255,255,0.75)" stroke-width="0.4"/>
<line x1="485.29" y1="176.00" x2="485.29" y2="188.70" stroke="rgba(255,255,255,0.75)" stroke-width="0.4"/>
<line x1="500.48" y1="176.00" x2="500.48" y2="188.70" stroke="rgba(255,255,255,0.75)" stroke-width="0.4"/>
<line x1="515.66" y1="176.00" x2="515.66" y2="188.70" stroke="rgba(255,255,255,0.75)" stroke-width="0.4"/>
<line x1="530.84" y1="176.00" x2="530.84" y2="188.70" stroke="rgba(255,255,255,0.75)" stroke-width="0.4"/>
<line x1="546.03" y1="176.00" x2="546.03" y2="188.70" stroke="rgba(255,255,255,0.75)" stroke-width="0.4"/>
<line x1="561.21" y1="176.00" x2="561.21" y2="188.70" stroke="rgba(255,255,255,0.75)" stroke-width="0.4"/>
<line x1="576.39" y1="176.00" x2="576.39" y2="188.70" stroke="rgba(255,255,255,0.75)" stroke-width="0.4"/>
<line x1="591.58" y1="176.00" x2="591.58" y2="188.70" stroke="rgba(255,255,255,0.75)" stroke-width="0.4"/>
<line x1="606.76" y1="176.00" x2="606.76" y2="188.70" stroke="rgba(255,255,255,0.75)" stroke-width="0.4"/>
<line x1="621.94" y1="176.00" x2="621.94" y2="188.70" stroke="rgba(255,255,255,0.75)" stroke-width="0.4"/>
<line x1="637.12" y1="176.00" x2="637.12" y2="188.70" stroke="rgba(255,255,255,0.75)" stroke-width="0.4"/>
<line x1="652.31" y1="176.00" x2="652.31" y2="188.70" stroke="rgba(255,255,255,0.75)" stroke-width="0.4"/>
<line x1="667.49" y1="176.00" x2="667.49" y2="188.70" stroke="rgba(255,255,255,0.75)" stroke-width="0.4"/>
<line x1="682.67" y1="176.00" x2="682.67" y2="188.70" stroke="rgba(255,255,255,0.75)" stroke-width="0.4"/>
<rect x="42.30" y="201.00" width="640.60" height="12.20" fill="#D9E2F3"/>
<rect x="42.60" y="201.30" width="640.00" height="11.60" fill="none" stroke="#cfdaf0" stroke-width="0.4"/>
<line x1="212.00" y1="225.20" x2="682.67" y2="225.20" stroke="#c8c8c8" stroke-width="0.4"/>
<line x1="212.00" y1="225.20" x2="212.00" y2="237.75" stroke="#c8c8c8" stroke-width="0.4"/>
<line x1="227.18" y1="225.20" x2="227.18" y2="237.75" stroke="#c8c8c8" stroke-width="0.4"/>
<line x1="242.37" y1="225.20" x2="242.37" y2="237.75" stroke="#c8c8c8" stroke-width="0.4"/>
<line x1="257.55" y1="225.20" x2="257.55" y2="237.75" stroke="#c8c8c8" stroke-width="0.4"/>
<line x1="272.73" y1="225.20" x2="272.73" y2="237.75" stroke="#c8c8c8" stroke-width="0.4"/>
<line x1="287.91" y1="225.20" x2="287.91" y2="237.75" stroke="#c8c8c8" stroke-width="0.4"/>
<line x1="303.10" y1="225.20" x2="303.10" y2="237.75" stroke="#c8c8c8" stroke-width="0.4"/>
<line x1="318.28" y1="225.20" x2="318.28" y2="237.75" stroke="#c8c8c8" stroke-width="0.4"/>
<line x1="333.46" y1="225.20" x2="333.46" y2="237.75" stroke="#c8c8c8" stroke-width="0.4"/>
<line x1="348.65" y1="225.20" x2="348.65" y2="237.75" stroke="#c8c8c8" stroke-width="0.4"/>
<line x1="363.83" y1="225.20" x2="363.83" y2="237.75" stroke="#c8c8c8" stroke-width="0.4"/>
<line x1="379.01" y1="225.20" x2="379.01" y2="237.75" stroke="#c8c8c8" stroke-width="0.4"/>
<line x1="394.20" y1="225.20" x2="394.20" y2="237.75" stroke="#c8c8c8" stroke-width="0.4"/>
<line x1="409.38" y1="225.20" x2="409.38" y2="237.75" stroke="#c8c8c8" stroke-width="0.4"/>
<line x1="424.56" y1="225.20" x2="424.56" y2="237.75" stroke="#c8c8c8" stroke-width="0.4"/>
<line x1="439.75" y1="225.20" x2="439.75" y2="237.75" stroke="#c8c8c8" stroke-width="0.4"/>
<line x1="454.93" y1="225.20" x2="454.93" y2="237.75" stroke="#c8c8c8" stroke-width="0.4"/>
<line x1="470.11" y1="225.20" x2="470.11" y2="237.75" stroke="#c8c8c8" stroke-width="0.4"/>
<line x1="485.29" y1="225.20" x2="485.29" y2="237.75" stroke="#c8c8c8" stroke-width="0.4"/>
<line x1="500.48" y1="225.20" x2="500.48" y2="237.75" stroke="#c8c8c8" stroke-width="0.4"/>
<line x1="515.66" y1="225.20" x2="515.66" y2="237.75" stroke="#c8c8c8" stroke-width="0.4"/>
<line x1="530.84" y1="225.20" x2="530.84" y2="237.75" stroke="#c8c8c8" stroke-width="0.4"/>
<line x1="546.03" y1="225.20" x2="546.03" y2="237.75" stroke="#c8c8c8" stroke-width="0.4"/>
<line x1="561.21" y1="225.20" x2="561.21" y2="237.75" stroke="#c8c8c8" stroke-width="0.4"/>
<line x1="576.39" y1="225.20" x2="576.39" y2="237.75" stroke="#c8c8c8" stroke-width="0.4"/>
<line x1="591.58" y1="225.20" x2="591.58" y2="237.75" stroke="#c8c8c8" stroke-width="0.4"/>
<line x1="606.76" y1="225.20" x2="606.76" y2="237.75" stroke="#c8c8c8" stroke-width="0.4"/>
<line x1="621.94" y1="225.20" x2="621.94" y2="237.75" stroke="#c8c8c8" stroke-width="0.4"/>
<line x1="637.12" y1="225.20" x2="637.12" y2="237.75" stroke="#c8c8c8" stroke-width="0.4"/>
<line x1="652.31" y1="225.20" x2="652.31" y2="237.75" stroke="#c8c8c8" stroke-width="0.4"/>
<line x1="667.49" y1="225.20" x2="667.49" y2="237.75" stroke="#c8c8c8" stroke-width="0.4"/>
<line x1="682.67" y1="225.20" x2="682.67" y2="237.75" stroke="#c8c8c8" stroke-width="0.4"/>
<rect x="42.60" y="237.75" width="169.40" height="11.35" fill="#0071BD"/>
<rect x="212.00" y="237.75" width="470.67" height="11.35" fill="#0054A4"/>
<rect x="212.00" y="237.75" width="15.18" height="11.35" fill="#A7B8CE"/>
<rect x="303.10" y="237.75" width="30.37" height="11.35" fill="#A7B8CE"/>
<rect x="409.38" y="237.75" width="30.37" height="11.35" fill="#A7B8CE"/>
<rect x="515.66" y="237.75" width="30.37" height="11.35" fill="#A7B8CE"/>
<rect x="621.94" y="237.75" width="30.37" height="11.35" fill="#A7B8CE"/>
<line x1="212.00" y1="237.75" x2="212.00" y2="249.10" stroke="rgba(255,255,255,0.55)" stroke-width="0.4"/>
<line x1="227.18" y1="237.75" x2="227.18" y2="249.10" stroke="rgba(255,255,255,0.55)" stroke-width="0.4"/>
<line x1="242.37" y1="237.75" x2="242.37" y2="249.10" stroke="rgba(255,255,255,0.55)" stroke-width="0.4"/>
<line x1="257.55" y1="237.75" x2="257.55" y2="249.10" stroke="rgba(255,255,255,0.55)" stroke-width="0.4"/>
<line x1="272.73" y1="237.75" x2="272.73" y2="249.10" stroke="rgba(255,255,255,0.55)" stroke-width="0.4"/>
<line x1="287.91" y1="237.75" x2="287.91" y2="249.10" stroke="rgba(255,255,255,0.55)" stroke-width="0.4"/>
<line x1="303.10" y1="237.75" x2="303.10" y2="249.10" stroke="rgba(255,255,255,0.55)" stroke-width="0.4"/>
<line x1="318.28" y1="237.75" x2="318.28" y2="249.10" stroke="rgba(255,255,255,0.55)" stroke-width="0.4"/>
<line x1="333.46" y1="237.75" x2="333.46" y2="249.10" stroke="rgba(255,255,255,0.55)" stroke-width="0.4"/>
<line x1="348.65" y1="237.75" x2="348.65" y2="249.10" stroke="rgba(255,255,255,0.55)" stroke-width="0.4"/>
<line x1="363.83" y1="237.75" x2="363.83" y2="249.10" stroke="rgba(255,255,255,0.55)" stroke-width="0.4"/>
<line x1="379.01" y1="237.75" x2="379.01" y2="249.10" stroke="rgba(255,255,255,0.55)" stroke-width="0.4"/>
<line x1="394.20" y1="237.75" x2="394.20" y2="249.10" stroke="rgba(255,255,255,0.55)" stroke-width="0.4"/>
<line x1="409.38" y1="237.75" x2="409.38" y2="249.10" stroke="rgba(255,255,255,0.55)" stroke-width="0.4"/>
<line x1="424.56" y1="237.75" x2="424.56" y2="249.10" stroke="rgba(255,255,255,0.55)" stroke-width="0.4"/>
<line x1="439.75" y1="237.75" x2="439.75" y2="249.10" stroke="rgba(255,255,255,0.55)" stroke-width="0.4"/>
<line x1="454.93" y1="237.75" x2="454.93" y2="249.10" stroke="rgba(255,255,255,0.55)" stroke-width="0.4"/>
<line x1="470.11" y1="237.75" x2="470.11" y2="249.10" stroke="rgba(255,255,255,0.55)" stroke-width="0.4"/>
<line x1="485.29" y1="237.75" x2="485.29" y2="249.10" stroke="rgba(255,255,255,0.55)" stroke-width="0.4"/>
<line x1="500.48" y1="237.75" x2="500.48" y2="249.10" stroke="rgba(255,255,255,0.55)" stroke-width="0.4"/>
<line x1="515.66" y1="237.75" x2="515.66" y2="249.10" stroke="rgba(255,255,255,0.55)" stroke-width="0.4"/>
<line x1="530.84" y1="237.75" x2="530.84" y2="249.10" stroke="rgba(255,255,255,0.55)" stroke-width="0.4"/>
<line x1="546.03" y1="237.75" x2="546.03" y2="249.10" stroke="rgba(255,255,255,0.55)" stroke-width="0.4"/>
<line x1="561.21" y1="237.75" x2="561.21" y2="249.10" stroke="rgba(255,255,255,0.55)" stroke-width="0.4"/>
<line x1="576.39" y1="237.75" x2="576.39" y2="249.10" stroke="rgba(255,255,255,0.55)" stroke-width="0.4"/>
<line x1="591.58" y1="237.75" x2="591.58" y2="249.10" stroke="rgba(255,255,255,0.55)" stroke-width="0.4"/>
<line x1="606.76" y1="237.75" x2="606.76" y2="249.10" stroke="rgba(255,255,255,0.55)" stroke-width="0.4"/>
<line x1="621.94" y1="237.75" x2="621.94" y2="249.10" stroke="rgba(255,255,255,0.55)" stroke-width="0.4"/>
<line x1="637.12" y1="237.75" x2="637.12" y2="249.10" stroke="rgba(255,255,255,0.55)" stroke-width="0.4"/>
<line x1="652.31" y1="237.75" x2="652.31" y2="249.10" stroke="rgba(255,255,255,0.55)" stroke-width="0.4"/>
<line x1="667.49" y1="237.75" x2="667.49" y2="249.10" stroke="rgba(255,255,255,0.55)" stroke-width="0.4"/>
<line x1="682.67" y1="237.75" x2="682.67" y2="249.10" stroke="rgba(255,255,255,0.55)" stroke-width="0.4"/>
<rect x="42.60" y="249.10" width="169.40" height="11.80" fill="#fff"/>
<rect x="212.00" y="249.10" width="15.18" height="11.80" fill="#D9E2F3"/>
<rect x="227.18" y="249.10" width="75.91" height="11.80" fill="#A89000"/>
<rect x="303.10" y="249.10" width="30.37" height="11.80" fill="#D9E2F3"/>
<rect x="333.46" y="249.10" width="75.91" height="11.80" fill="#A89000"/>
<rect x="409.38" y="249.10" width="30.37" height="11.80" fill="#D9E2F3"/>
<rect x="439.75" y="249.10" width="75.91" height="11.80" fill="#A89000"/>
<rect x="515.66" y="249.10" width="30.37" height="11.80" fill="#D9E2F3"/>
<rect x="546.03" y="249.10" width="75.91" height="11.80" fill="#A89000"/>
<rect x="621.94" y="249.10" width="30.37" height="11.80" fill="#D9E2F3"/>
<rect x="652.31" y="249.10" width="30.37" height="11.80" fill="#A89000"/>
<line x1="42.60" y1="261.40" x2="212.00" y2="261.40" stroke="#c8c8c8" stroke-width="0.4"/>
<line x1="212.00" y1="260.90" x2="682.67" y2="260.90" stroke="rgba(255,255,255,0.75)" stroke-width="0.4"/>
<line x1="42.60" y1="249.10" x2="42.60" y2="261.40" stroke="#c8c8c8" stroke-width="0.4"/>
<line x1="212.00" y1="249.10" x2="212.00" y2="260.90" stroke="rgba(255,255,255,0.75)" stroke-width="0.4"/>
<line x1="227.18" y1="249.10" x2="227.18" y2="260.90" stroke="rgba(255,255,255,0.75)" stroke-width="0.4"/>
<line x1="242.37" y1="249.10" x2="242.37" y2="260.90" stroke="rgba(255,255,255,0.75)" stroke-width="0.4"/>
<line x1="257.55" y1="249.10" x2="257.55" y2="260.90" stroke="rgba(255,255,255,0.75)" stroke-width="0.4"/>
<line x1="272.73" y1="249.10" x2="272.73" y2="260.90" stroke="rgba(255,255,255,0.75)" stroke-width="0.4"/>
<line x1="287.91" y1="249.10" x2="287.91" y2="260.90" stroke="rgba(255,255,255,0.75)" stroke-width="0.4"/>
<line x1="303.10" y1="249.10" x2="303.10" y2="260.90" stroke="rgba(255,255,255,0.75)" stroke-width="0.4"/>
<line x1="318.28" y1="249.10" x2="318.28" y2="260.90" stroke="rgba(255,255,255,0.75)" stroke-width="0.4"/>
<line x1="333.46" y1="249.10" x2="333.46" y2="260.90" stroke="rgba(255,255,255,0.75)" stroke-width="0.4"/>
<line x1="348.65" y1="249.10" x2="348.65" y2="260.90" stroke="rgba(255,255,255,0.75)" stroke-width="0.4"/>
<line x1="363.83" y1="249.10" x2="363.83" y2="260.90" stroke="rgba(255,255,255,0.75)" stroke-width="0.4"/>
<line x1="379.01" y1="249.10" x2="379.01" y2="260.90" stroke="rgba(255,255,255,0.75)" stroke-width="0.4"/>
<line x1="394.20" y1="249.10" x2="394.20" y2="260.90" stroke="rgba(255,255,255,0.75)" stroke-width="0.4"/>
<line x1="409.38" y1="249.10" x2="409.38" y2="260.90" stroke="rgba(255,255,255,0.75)" stroke-width="0.4"/>
<line x1="424.56" y1="249.10" x2="424.56" y2="260.90" stroke="rgba(255,255,255,0.75)" stroke-width="0.4"/>
<line x1="439.75" y1="249.10" x2="439.75" y2="260.90" stroke="rgba(255,255,255,0.75)" stroke-width="0.4"/>
<line x1="454.93" y1="249.10" x2="454.93" y2="260.90" stroke="rgba(255,255,255,0.75)" stroke-width="0.4"/>
<line x1="470.11" y1="249.10" x2="470.11" y2="260.90" stroke="rgba(255,255,255,0.75)" stroke-width="0.4"/>
<line x1="485.29" y1="249.10" x2="485.29" y2="260.90" stroke="rgba(255,255,255,0.75)" stroke-width="0.4"/>
<line x1="500.48" y1="249.10" x2="500.48" y2="260.90" stroke="rgba(255,255,255,0.75)" stroke-width="0.4"/>
<line x1="515.66" y1="249.10" x2="515.66" y2="260.90" stroke="rgba(255,255,255,0.75)" stroke-width="0.4"/>
<line x1="530.84" y1="249.10" x2="530.84" y2="260.90" stroke="rgba(255,255,255,0.75)" stroke-width="0.4"/>
<line x1="546.03" y1="249.10" x2="546.03" y2="260.90" stroke="rgba(255,255,255,0.75)" stroke-width="0.4"/>
<line x1="561.21" y1="249.10" x2="561.21" y2="260.90" stroke="rgba(255,255,255,0.75)" stroke-width="0.4"/>
<line x1="576.39" y1="249.10" x2="576.39" y2="260.90" stroke="rgba(255,255,255,0.75)" stroke-width="0.4"/>
<line x1="591.58" y1="249.10" x2="591.58" y2="260.90" stroke="rgba(255,255,255,0.75)" stroke-width="0.4"/>
<line x1="606.76" y1="249.10" x2="606.76" y2="260.90" stroke="rgba(255,255,255,0.75)" stroke-width="0.4"/>
<line x1="621.94" y1="249.10" x2="621.94" y2="260.90" stroke="rgba(255,255,255,0.75)" stroke-width="0.4"/>
<line x1="637.12" y1="249.10" x2="637.12" y2="260.90" stroke="rgba(255,255,255,0.75)" stroke-width="0.4"/>
<line x1="652.31" y1="249.10" x2="652.31" y2="260.90" stroke="rgba(255,255,255,0.75)" stroke-width="0.4"/>
<line x1="667.49" y1="249.10" x2="667.49" y2="260.90" stroke="rgba(255,255,255,0.75)" stroke-width="0.4"/>
<line x1="682.67" y1="249.10" x2="682.67" y2="260.90" stroke="rgba(255,255,255,0.75)" stroke-width="0.4"/>
<rect x="42.60" y="264.00" width="169.40" height="11.30" fill="#fff"/>
<rect x="212.00" y="264.00" width="15.18" height="11.30" fill="#D9E2F3"/>
<rect x="227.18" y="264.00" width="75.91" height="11.30" fill="#FF8000"/>
<rect x="303.10" y="264.00" width="30.37" height="11.30" fill="#D9E2F3"/>
<rect x="333.46" y="264.00" width="75.91" height="11.30" fill="#FF8000"/>
<rect x="409.38" y="264.00" width="30.37" height="11.30" fill="#D9E2F3"/>
<rect x="439.75" y="264.00" width="75.91" height="11.30" fill="#FF8000"/>
<rect x="515.66" y="264.00" width="30.37" height="11.30" fill="#D9E2F3"/>
<rect x="546.03" y="264.00" width="75.91" height="11.30" fill="#FF8000"/>
<rect x="621.94" y="264.00" width="30.37" height="11.30" fill="#D9E2F3"/>
<rect x="652.31" y="264.00" width="30.37" height="11.30" fill="#FF8000"/>
<line x1="42.60" y1="263.50" x2="212.00" y2="263.50" stroke="#c8c8c8" stroke-width="0.4"/>
<line x1="212.00" y1="264.00" x2="682.67" y2="264.00" stroke="rgba(255,255,255,0.75)" stroke-width="0.4"/>
<line x1="42.60" y1="275.80" x2="212.00" y2="275.80" stroke="#c8c8c8" stroke-width="0.4"/>
<line x1="212.00" y1="275.30" x2="682.67" y2="275.30" stroke="rgba(255,255,255,0.75)" stroke-width="0.4"/>
<line x1="42.60" y1="263.50" x2="42.60" y2="275.80" stroke="#c8c8c8" stroke-width="0.4"/>
<line x1="212.00" y1="264.00" x2="212.00" y2="275.30" stroke="rgba(255,255,255,0.75)" stroke-width="0.4"/>
<line x1="227.18" y1="264.00" x2="227.18" y2="275.30" stroke="rgba(255,255,255,0.75)" stroke-width="0.4"/>
<line x1="242.37" y1="264.00" x2="242.37" y2="275.30" stroke="rgba(255,255,255,0.75)" stroke-width="0.4"/>
<line x1="257.55" y1="264.00" x2="257.55" y2="275.30" stroke="rgba(255,255,255,0.75)" stroke-width="0.4"/>
<line x1="272.73" y1="264.00" x2="272.73" y2="275.30" stroke="rgba(255,255,255,0.75)" stroke-width="0.4"/>
<line x1="287.91" y1="264.00" x2="287.91" y2="275.30" stroke="rgba(255,255,255,0.75)" stroke-width="0.4"/>
<line x1="303.10" y1="264.00" x2="303.10" y2="275.30" stroke="rgba(255,255,255,0.75)" stroke-width="0.4"/>
<line x1="318.28" y1="264.00" x2="318.28" y2="275.30" stroke="rgba(255,255,255,0.75)" stroke-width="0.4"/>
<line x1="333.46" y1="264.00" x2="333.46" y2="275.30" stroke="rgba(255,255,255,0.75)" stroke-width="0.4"/>
<line x1="348.65" y1="264.00" x2="348.65" y2="275.30" stroke="rgba(255,255,255,0.75)" stroke-width="0.4"/>
<line x1="363.83" y1="264.00" x2="363.83" y2="275.30" stroke="rgba(255,255,255,0.75)" stroke-width="0.4"/>
<line x1="379.01" y1="264.00" x2="379.01" y2="275.30" stroke="rgba(255,255,255,0.75)" stroke-width="0.4"/>
<line x1="394.20" y1="264.00" x2="394.20" y2="275.30" stroke="rgba(255,255,255,0.75)" stroke-width="0.4"/>
<line x1="409.38" y1="264.00" x2="409.38" y2="275.30" stroke="rgba(255,255,255,0.75)" stroke-width="0.4"/>
<line x1="424.56" y1="264.00" x2="424.56" y2="275.30" stroke="rgba(255,255,255,0.75)" stroke-width="0.4"/>
<line x1="439.75" y1="264.00" x2="439.75" y2="275.30" stroke="rgba(255,255,255,0.75)" stroke-width="0.4"/>
<line x1="454.93" y1="264.00" x2="454.93" y2="275.30" stroke="rgba(255,255,255,0.75)" stroke-width="0.4"/>
<line x1="470.11" y1="264.00" x2="470.11" y2="275.30" stroke="rgba(255,255,255,0.75)" stroke-width="0.4"/>
<line x1="485.29" y1="264.00" x2="485.29" y2="275.30" stroke="rgba(255,255,255,0.75)" stroke-width="0.4"/>
<line x1="500.48" y1="264.00" x2="500.48" y2="275.30" stroke="rgba(255,255,255,0.75)" stroke-width="0.4"/>
<line x1="515.66" y1="264.00" x2="515.66" y2="275.30" stroke="rgba(255,255,255,0.75)" stroke-width="0.4"/>
<line x1="530.84" y1="264.00" x2="530.84" y2="275.30" stroke="rgba(255,255,255,0.75)" stroke-width="0.4"/>
<line x1="546.03" y1="264.00" x2="546.03" y2="275.30" stroke="rgba(255,255,255,0.75)" stroke-width="0.4"/>
<line x1="561.21" y1="264.00" x2="561.21" y2="275.30" stroke="rgba(255,255,255,0.75)" stroke-width="0.4"/>
<line x1="576.39" y1="264.00" x2="576.39" y2="275.30" stroke="rgba(255,255,255,0.75)" stroke-width="0.4"/>
<line x1="591.58" y1="264.00" x2="591.58" y2="275.30" stroke="rgba(255,255,255,0.75)" stroke-width="0.4"/>
<line x1="606.76" y1="264.00" x2="606.76" y2="275.30" stroke="rgba(255,255,255,0.75)" stroke-width="0.4"/>
<line x1="621.94" y1="264.00" x2="621.94" y2="275.30" stroke="rgba(255,255,255,0.75)" stroke-width="0.4"/>
<line x1="637.12" y1="264.00" x2="637.12" y2="275.30" stroke="rgba(255,255,255,0.75)" stroke-width="0.4"/>
<line x1="652.31" y1="264.00" x2="652.31" y2="275.30" stroke="rgba(255,255,255,0.75)" stroke-width="0.4"/>
<line x1="667.49" y1="264.00" x2="667.49" y2="275.30" stroke="rgba(255,255,255,0.75)" stroke-width="0.4"/>
<line x1="682.67" y1="264.00" x2="682.67" y2="275.30" stroke="rgba(255,255,255,0.75)" stroke-width="0.4"/>
<rect x="42.60" y="278.20" width="169.40" height="11.60" fill="#fff"/>
<rect x="212.00" y="278.20" width="91.10" height="11.60" fill="#AE3192"/>
<rect x="303.10" y="278.20" width="30.37" height="11.60" fill="#D9E2F3"/>
<rect x="333.46" y="278.20" width="75.91" height="11.60" fill="#AE3192"/>
<rect x="409.38" y="278.20" width="30.37" height="11.60" fill="#D9E2F3"/>
<rect x="439.75" y="278.20" width="75.91" height="11.60" fill="#AE3192"/>
<rect x="515.66" y="278.20" width="30.37" height="11.60" fill="#D9E2F3"/>
<rect x="546.03" y="278.20" width="75.91" height="11.60" fill="#AE3192"/>
<rect x="621.94" y="278.20" width="30.37" height="11.60" fill="#D9E2F3"/>
<rect x="652.31" y="278.20" width="30.37" height="11.60" fill="#AE3192"/>
<line x1="42.60" y1="277.70" x2="212.00" y2="277.70" stroke="#c8c8c8" stroke-width="0.4"/>
<line x1="212.00" y1="278.20" x2="682.67" y2="278.20" stroke="rgba(255,255,255,0.75)" stroke-width="0.4"/>
<line x1="42.60" y1="289.80" x2="212.00" y2="289.80" stroke="#c8c8c8" stroke-width="0.4"/>
<line x1="212.00" y1="289.80" x2="682.67" y2="289.80" stroke="rgba(255,255,255,0.75)" stroke-width="0.4"/>
<line x1="42.60" y1="277.70" x2="42.60" y2="289.80" stroke="#c8c8c8" stroke-width="0.4"/>
<line x1="212.00" y1="278.20" x2="212.00" y2="289.80" stroke="rgba(255,255,255,0.75)" stroke-width="0.4"/>
<line x1="227.18" y1="278.20" x2="227.18" y2="289.80" stroke="rgba(255,255,255,0.75)" stroke-width="0.4"/>
<line x1="242.37" y1="278.20" x2="242.37" y2="289.80" stroke="rgba(255,255,255,0.75)" stroke-width="0.4"/>
<line x1="257.55" y1="278.20" x2="257.55" y2="289.80" stroke="rgba(255,255,255,0.75)" stroke-width="0.4"/>
<line x1="272.73" y1="278.20" x2="272.73" y2="289.80" stroke="rgba(255,255,255,0.75)" stroke-width="0.4"/>
<line x1="287.91" y1="278.20" x2="287.91" y2="289.80" stroke="rgba(255,255,255,0.75)" stroke-width="0.4"/>
<line x1="303.10" y1="278.20" x2="303.10" y2="289.80" stroke="rgba(255,255,255,0.75)" stroke-width="0.4"/>
<line x1="318.28" y1="278.20" x2="318.28" y2="289.80" stroke="rgba(255,255,255,0.75)" stroke-width="0.4"/>
<line x1="333.46" y1="278.20" x2="333.46" y2="289.80" stroke="rgba(255,255,255,0.75)" stroke-width="0.4"/>
<line x1="348.65" y1="278.20" x2="348.65" y2="289.80" stroke="rgba(255,255,255,0.75)" stroke-width="0.4"/>
<line x1="363.83" y1="278.20" x2="363.83" y2="289.80" stroke="rgba(255,255,255,0.75)" stroke-width="0.4"/>
<line x1="379.01" y1="278.20" x2="379.01" y2="289.80" stroke="rgba(255,255,255,0.75)" stroke-width="0.4"/>
<line x1="394.20" y1="278.20" x2="394.20" y2="289.80" stroke="rgba(255,255,255,0.75)" stroke-width="0.4"/>
<line x1="409.38" y1="278.20" x2="409.38" y2="289.80" stroke="rgba(255,255,255,0.75)" stroke-width="0.4"/>
<line x1="424.56" y1="278.20" x2="424.56" y2="289.80" stroke="rgba(255,255,255,0.75)" stroke-width="0.4"/>
<line x1="439.75" y1="278.20" x2="439.75" y2="289.80" stroke="rgba(255,255,255,0.75)" stroke-width="0.4"/>
<line x1="454.93" y1="278.20" x2="454.93" y2="289.80" stroke="rgba(255,255,255,0.75)" stroke-width="0.4"/>
<line x1="470.11" y1="278.20" x2="470.11" y2="289.80" stroke="rgba(255,255,255,0.75)" stroke-width="0.4"/>
<line x1="485.29" y1="278.20" x2="485.29" y2="289.80" stroke="rgba(255,255,255,0.75)" stroke-width="0.4"/>
<line x1="500.48" y1="278.20" x2="500.48" y2="289.80" stroke="rgba(255,255,255,0.75)" stroke-width="0.4"/>
<line x1="515.66" y1="278.20" x2="515.66" y2="289.80" stroke="rgba(255,255,255,0.75)" stroke-width="0.4"/>
<line x1="530.84" y1="278.20" x2="530.84" y2="289.80" stroke="rgba(255,255,255,0.75)" stroke-width="0.4"/>
<line x1="546.03" y1="278.20" x2="546.03" y2="289.80" stroke="rgba(255,255,255,0.75)" stroke-width="0.4"/>
<line x1="561.21" y1="278.20" x2="561.21" y2="289.80" stroke="rgba(255,255,255,0.75)" stroke-width="0.4"/>
<line x1="576.39" y1="278.20" x2="576.39" y2="289.80" stroke="rgba(255,255,255,0.75)" stroke-width="0.4"/>
<line x1="591.58" y1="278.20" x2="591.58" y2="289.80" stroke="rgba(255,255,255,0.75)" stroke-width="0.4"/>
<line x1="606.76" y1="278.20" x2="606.76" y2="289.80" stroke="rgba(255,255,255,0.75)" stroke-width="0.4"/>
<line x1="621.94" y1="278.20" x2="621.94" y2="289.80" stroke="rgba(255,255,255,0.75)" stroke-width="0.4"/>
<line x1="637.12" y1="278.20" x2="637.12" y2="289.80" stroke="rgba(255,255,255,0.75)" stroke-width="0.4"/>
<line x1="652.31" y1="278.20" x2="652.31" y2="289.80" stroke="rgba(255,255,255,0.75)" stroke-width="0.4"/>
<line x1="667.49" y1="278.20" x2="667.49" y2="289.80" stroke="rgba(255,255,255,0.75)" stroke-width="0.4"/>
<line x1="682.67" y1="278.20" x2="682.67" y2="289.80" stroke="rgba(255,255,255,0.75)" stroke-width="0.4"/>
<rect x="42.60" y="289.80" width="169.40" height="11.70" fill="#fff"/>
<rect x="212.00" y="289.80" width="15.18" height="11.70" fill="#D9E2F3"/>
<rect x="227.18" y="289.80" width="75.91" height="11.70" fill="#AE3192"/>
<rect x="303.10" y="289.80" width="30.37" height="11.70" fill="#D9E2F3"/>
<rect x="333.46" y="289.80" width="75.91" height="11.70" fill="#AE3192"/>
<rect x="409.38" y="289.80" width="30.37" height="11.70" fill="#D9E2F3"/>
<rect x="439.75" y="289.80" width="75.91" height="11.70" fill="#AE3192"/>
<rect x="515.66" y="289.80" width="30.37" height="11.70" fill="#D9E2F3"/>
<rect x="546.03" y="289.80" width="75.91" height="11.70" fill="#AE3192"/>
<rect x="621.94" y="289.80" width="30.37" height="11.70" fill="#D9E2F3"/>
<rect x="652.31" y="289.80" width="30.37" height="11.70" fill="#AE3192"/>
<line x1="42.60" y1="302.00" x2="212.00" y2="302.00" stroke="#c8c8c8" stroke-width="0.4"/>
<line x1="212.00" y1="301.50" x2="682.67" y2="301.50" stroke="rgba(255,255,255,0.75)" stroke-width="0.4"/>
<line x1="42.60" y1="289.80" x2="42.60" y2="302.00" stroke="#c8c8c8" stroke-width="0.4"/>
<line x1="212.00" y1="289.80" x2="212.00" y2="301.50" stroke="rgba(255,255,255,0.75)" stroke-width="0.4"/>
<line x1="227.18" y1="289.80" x2="227.18" y2="301.50" stroke="rgba(255,255,255,0.75)" stroke-width="0.4"/>
<line x1="242.37" y1="289.80" x2="242.37" y2="301.50" stroke="rgba(255,255,255,0.75)" stroke-width="0.4"/>
<line x1="257.55" y1="289.80" x2="257.55" y2="301.50" stroke="rgba(255,255,255,0.75)" stroke-width="0.4"/>
<line x1="272.73" y1="289.80" x2="272.73" y2="301.50" stroke="rgba(255,255,255,0.75)" stroke-width="0.4"/>
<line x1="287.91" y1="289.80" x2="287.91" y2="301.50" stroke="rgba(255,255,255,0.75)" stroke-width="0.4"/>
<line x1="303.10" y1="289.80" x2="303.10" y2="301.50" stroke="rgba(255,255,255,0.75)" stroke-width="0.4"/>
<line x1="318.28" y1="289.80" x2="318.28" y2="301.50" stroke="rgba(255,255,255,0.75)" stroke-width="0.4"/>
<line x1="333.46" y1="289.80" x2="333.46" y2="301.50" stroke="rgba(255,255,255,0.75)" stroke-width="0.4"/>
<line x1="348.65" y1="289.80" x2="348.65" y2="301.50" stroke="rgba(255,255,255,0.75)" stroke-width="0.4"/>
<line x1="363.83" y1="289.80" x2="363.83" y2="301.50" stroke="rgba(255,255,255,0.75)" stroke-width="0.4"/>
<line x1="379.01" y1="289.80" x2="379.01" y2="301.50" stroke="rgba(255,255,255,0.75)" stroke-width="0.4"/>
<line x1="394.20" y1="289.80" x2="394.20" y2="301.50" stroke="rgba(255,255,255,0.75)" stroke-width="0.4"/>
<line x1="409.38" y1="289.80" x2="409.38" y2="301.50" stroke="rgba(255,255,255,0.75)" stroke-width="0.4"/>
<line x1="424.56" y1="289.80" x2="424.56" y2="301.50" stroke="rgba(255,255,255,0.75)" stroke-width="0.4"/>
<line x1="439.75" y1="289.80" x2="439.75" y2="301.50" stroke="rgba(255,255,255,0.75)" stroke-width="0.4"/>
<line x1="454.93" y1="289.80" x2="454.93" y2="301.50" stroke="rgba(255,255,255,0.75)" stroke-width="0.4"/>
<line x1="470.11" y1="289.80" x2="470.11" y2="301.50" stroke="rgba(255,255,255,0.75)" stroke-width="0.4"/>
<line x1="485.29" y1="289.80" x2="485.29" y2="301.50" stroke="rgba(255,255,255,0.75)" stroke-width="0.4"/>
<line x1="500.48" y1="289.80" x2="500.48" y2="301.50" stroke="rgba(255,255,255,0.75)" stroke-width="0.4"/>
<line x1="515.66" y1="289.80" x2="515.66" y2="301.50" stroke="rgba(255,255,255,0.75)" stroke-width="0.4"/>
<line x1="530.84" y1="289.80" x2="530.84" y2="301.50" stroke="rgba(255,255,255,0.75)" stroke-width="0.4"/>
<line x1="546.03" y1="289.80" x2="546.03" y2="301.50" stroke="rgba(255,255,255,0.75)" stroke-width="0.4"/>
<line x1="561.21" y1="289.80" x2="561.21" y2="301.50" stroke="rgba(255,255,255,0.75)" stroke-width="0.4"/>
<line x1="576.39" y1="289.80" x2="576.39" y2="301.50" stroke="rgba(255,255,255,0.75)" stroke-width="0.4"/>
<line x1="591.58" y1="289.80" x2="591.58" y2="301.50" stroke="rgba(255,255,255,0.75)" stroke-width="0.4"/>
<line x1="606.76" y1="289.80" x2="606.76" y2="301.50" stroke="rgba(255,255,255,0.75)" stroke-width="0.4"/>
<line x1="621.94" y1="289.80" x2="621.94" y2="301.50" stroke="rgba(255,255,255,0.75)" stroke-width="0.4"/>
<line x1="637.12" y1="289.80" x2="637.12" y2="301.50" stroke="rgba(255,255,255,0.75)" stroke-width="0.4"/>
<line x1="652.31" y1="289.80" x2="652.31" y2="301.50" stroke="rgba(255,255,255,0.75)" stroke-width="0.4"/>
<line x1="667.49" y1="289.80" x2="667.49" y2="301.50" stroke="rgba(255,255,255,0.75)" stroke-width="0.4"/>
<line x1="682.67" y1="289.80" x2="682.67" y2="301.50" stroke="rgba(255,255,255,0.75)" stroke-width="0.4"/>
<rect x="42.30" y="312.00" width="640.60" height="12.90" fill="#D9E2F3"/>
<rect x="42.60" y="312.30" width="640.00" height="12.30" fill="none" stroke="#cfdaf0" stroke-width="0.4"/>
<line x1="212.00" y1="336.50" x2="667.49" y2="336.50" stroke="#c8c8c8" stroke-width="0.4"/>
<line x1="212.00" y1="336.50" x2="212.00" y2="349.00" stroke="#c8c8c8" stroke-width="0.4"/>
<line x1="227.18" y1="336.50" x2="227.18" y2="349.00" stroke="#c8c8c8" stroke-width="0.4"/>
<line x1="242.37" y1="336.50" x2="242.37" y2="349.00" stroke="#c8c8c8" stroke-width="0.4"/>
<line x1="257.55" y1="336.50" x2="257.55" y2="349.00" stroke="#c8c8c8" stroke-width="0.4"/>
<line x1="272.73" y1="336.50" x2="272.73" y2="349.00" stroke="#c8c8c8" stroke-width="0.4"/>
<line x1="287.91" y1="336.50" x2="287.91" y2="349.00" stroke="#c8c8c8" stroke-width="0.4"/>
<line x1="303.10" y1="336.50" x2="303.10" y2="349.00" stroke="#c8c8c8" stroke-width="0.4"/>
<line x1="318.28" y1="336.50" x2="318.28" y2="349.00" stroke="#c8c8c8" stroke-width="0.4"/>
<line x1="333.46" y1="336.50" x2="333.46" y2="349.00" stroke="#c8c8c8" stroke-width="0.4"/>
<line x1="348.65" y1="336.50" x2="348.65" y2="349.00" stroke="#c8c8c8" stroke-width="0.4"/>
<line x1="363.83" y1="336.50" x2="363.83" y2="349.00" stroke="#c8c8c8" stroke-width="0.4"/>
<line x1="379.01" y1="336.50" x2="379.01" y2="349.00" stroke="#c8c8c8" stroke-width="0.4"/>
<line x1="394.20" y1="336.50" x2="394.20" y2="349.00" stroke="#c8c8c8" stroke-width="0.4"/>
<line x1="409.38" y1="336.50" x2="409.38" y2="349.00" stroke="#c8c8c8" stroke-width="0.4"/>
<line x1="424.56" y1="336.50" x2="424.56" y2="349.00" stroke="#c8c8c8" stroke-width="0.4"/>
<line x1="439.75" y1="336.50" x2="439.75" y2="349.00" stroke="#c8c8c8" stroke-width="0.4"/>
<line x1="454.93" y1="336.50" x2="454.93" y2="349.00" stroke="#c8c8c8" stroke-width="0.4"/>
<line x1="470.11" y1="336.50" x2="470.11" y2="349.00" stroke="#c8c8c8" stroke-width="0.4"/>
<line x1="485.29" y1="336.50" x2="485.29" y2="349.00" stroke="#c8c8c8" stroke-width="0.4"/>
<line x1="500.48" y1="336.50" x2="500.48" y2="349.00" stroke="#c8c8c8" stroke-width="0.4"/>
<line x1="515.66" y1="336.50" x2="515.66" y2="349.00" stroke="#c8c8c8" stroke-width="0.4"/>
<line x1="530.84" y1="336.50" x2="530.84" y2="349.00" stroke="#c8c8c8" stroke-width="0.4"/>
<line x1="546.03" y1="336.50" x2="546.03" y2="349.00" stroke="#c8c8c8" stroke-width="0.4"/>
<line x1="561.21" y1="336.50" x2="561.21" y2="349.00" stroke="#c8c8c8" stroke-width="0.4"/>
<line x1="576.39" y1="336.50" x2="576.39" y2="349.00" stroke="#c8c8c8" stroke-width="0.4"/>
<line x1="591.58" y1="336.50" x2="591.58" y2="349.00" stroke="#c8c8c8" stroke-width="0.4"/>
<line x1="606.76" y1="336.50" x2="606.76" y2="349.00" stroke="#c8c8c8" stroke-width="0.4"/>
<line x1="621.94" y1="336.50" x2="621.94" y2="349.00" stroke="#c8c8c8" stroke-width="0.4"/>
<line x1="637.12" y1="336.50" x2="637.12" y2="349.00" stroke="#c8c8c8" stroke-width="0.4"/>
<line x1="652.31" y1="336.50" x2="652.31" y2="349.00" stroke="#c8c8c8" stroke-width="0.4"/>
<line x1="667.49" y1="336.50" x2="667.49" y2="349.00" stroke="#c8c8c8" stroke-width="0.4"/>
<rect x="42.60" y="349.00" width="169.40" height="12.00" fill="#0071BD"/>
<rect x="212.00" y="349.00" width="455.49" height="12.00" fill="#0054A4"/>
<rect x="257.55" y="349.00" width="30.37" height="12.00" fill="#A7B8CE"/>
<rect x="363.83" y="349.00" width="30.37" height="12.00" fill="#A7B8CE"/>
<rect x="470.11" y="349.00" width="30.37" height="12.00" fill="#A7B8CE"/>
<rect x="576.39" y="349.00" width="30.37" height="12.00" fill="#A7B8CE"/>
<line x1="212.00" y1="349.00" x2="212.00" y2="361.00" stroke="rgba(255,255,255,0.55)" stroke-width="0.4"/>
<line x1="227.18" y1="349.00" x2="227.18" y2="361.00" stroke="rgba(255,255,255,0.55)" stroke-width="0.4"/>
<line x1="242.37" y1="349.00" x2="242.37" y2="361.00" stroke="rgba(255,255,255,0.55)" stroke-width="0.4"/>
<line x1="257.55" y1="349.00" x2="257.55" y2="361.00" stroke="rgba(255,255,255,0.55)" stroke-width="0.4"/>
<line x1="272.73" y1="349.00" x2="272.73" y2="361.00" stroke="rgba(255,255,255,0.55)" stroke-width="0.4"/>
<line x1="287.91" y1="349.00" x2="287.91" y2="361.00" stroke="rgba(255,255,255,0.55)" stroke-width="0.4"/>
<line x1="303.10" y1="349.00" x2="303.10" y2="361.00" stroke="rgba(255,255,255,0.55)" stroke-width="0.4"/>
<line x1="318.28" y1="349.00" x2="318.28" y2="361.00" stroke="rgba(255,255,255,0.55)" stroke-width="0.4"/>
<line x1="333.46" y1="349.00" x2="333.46" y2="361.00" stroke="rgba(255,255,255,0.55)" stroke-width="0.4"/>
<line x1="348.65" y1="349.00" x2="348.65" y2="361.00" stroke="rgba(255,255,255,0.55)" stroke-width="0.4"/>
<line x1="363.83" y1="349.00" x2="363.83" y2="361.00" stroke="rgba(255,255,255,0.55)" stroke-width="0.4"/>
<line x1="379.01" y1="349.00" x2="379.01" y2="361.00" stroke="rgba(255,255,255,0.55)" stroke-width="0.4"/>
<line x1="394.20" y1="349.00" x2="394.20" y2="361.00" stroke="rgba(255,255,255,0.55)" stroke-width="0.4"/>
<line x1="409.38" y1="349.00" x2="409.38" y2="361.00" stroke="rgba(255,255,255,0.55)" stroke-width="0.4"/>
<line x1="424.56" y1="349.00" x2="424.56" y2="361.00" stroke="rgba(255,255,255,0.55)" stroke-width="0.4"/>
<line x1="439.75" y1="349.00" x2="439.75" y2="361.00" stroke="rgba(255,255,255,0.55)" stroke-width="0.4"/>
<line x1="454.93" y1="349.00" x2="454.93" y2="361.00" stroke="rgba(255,255,255,0.55)" stroke-width="0.4"/>
<line x1="470.11" y1="349.00" x2="470.11" y2="361.00" stroke="rgba(255,255,255,0.55)" stroke-width="0.4"/>
<line x1="485.29" y1="349.00" x2="485.29" y2="361.00" stroke="rgba(255,255,255,0.55)" stroke-width="0.4"/>
<line x1="500.48" y1="349.00" x2="500.48" y2="361.00" stroke="rgba(255,255,255,0.55)" stroke-width="0.4"/>
<line x1="515.66" y1="349.00" x2="515.66" y2="361.00" stroke="rgba(255,255,255,0.55)" stroke-width="0.4"/>
<line x1="530.84" y1="349.00" x2="530.84" y2="361.00" stroke="rgba(255,255,255,0.55)" stroke-width="0.4"/>
<line x1="546.03" y1="349.00" x2="546.03" y2="361.00" stroke="rgba(255,255,255,0.55)" stroke-width="0.4"/>
<line x1="561.21" y1="349.00" x2="561.21" y2="361.00" stroke="rgba(255,255,255,0.55)" stroke-width="0.4"/>
<line x1="576.39" y1="349.00" x2="576.39" y2="361.00" stroke="rgba(255,255,255,0.55)" stroke-width="0.4"/>
<line x1="591.58" y1="349.00" x2="591.58" y2="361.00" stroke="rgba(255,255,255,0.55)" stroke-width="0.4"/>
<line x1="606.76" y1="349.00" x2="606.76" y2="361.00" stroke="rgba(255,255,255,0.55)" stroke-width="0.4"/>
<line x1="621.94" y1="349.00" x2="621.94" y2="361.00" stroke="rgba(255,255,255,0.55)" stroke-width="0.4"/>
<line x1="637.12" y1="349.00" x2="637.12" y2="361.00" stroke="rgba(255,255,255,0.55)" stroke-width="0.4"/>
<line x1="652.31" y1="349.00" x2="652.31" y2="361.00" stroke="rgba(255,255,255,0.55)" stroke-width="0.4"/>
<line x1="667.49" y1="349.00" x2="667.49" y2="361.00" stroke="rgba(255,255,255,0.55)" stroke-width="0.4"/>
<rect x="42.60" y="361.00" width="169.40" height="11.85" fill="#fff"/>
<rect x="212.00" y="361.00" width="45.55" height="11.85" fill="#A89000"/>
<rect x="257.55" y="361.00" width="30.37" height="11.85" fill="#D9E2F3"/>
<rect x="287.91" y="361.00" width="106.28" height="11.85" fill="#A89000"/>
<rect x="470.11" y="361.00" width="30.37" height="11.85" fill="#D9E2F3"/>
<rect x="576.39" y="361.00" width="30.37" height="11.85" fill="#D9E2F3"/>
<line x1="42.60" y1="373.35" x2="212.00" y2="373.35" stroke="#c8c8c8" stroke-width="0.4"/>
<line x1="212.00" y1="372.85" x2="394.20" y2="372.85" stroke="rgba(255,255,255,0.75)" stroke-width="0.4"/>
<line x1="394.20" y1="373.35" x2="470.11" y2="373.35" stroke="#c8c8c8" stroke-width="0.4"/>
<line x1="470.11" y1="372.85" x2="500.48" y2="372.85" stroke="rgba(255,255,255,0.75)" stroke-width="0.4"/>
<line x1="500.48" y1="373.35" x2="576.39" y2="373.35" stroke="#c8c8c8" stroke-width="0.4"/>
<line x1="576.39" y1="372.85" x2="606.76" y2="372.85" stroke="rgba(255,255,255,0.75)" stroke-width="0.4"/>
<line x1="606.76" y1="373.35" x2="667.49" y2="373.35" stroke="#c8c8c8" stroke-width="0.4"/>
<line x1="42.60" y1="361.00" x2="42.60" y2="373.35" stroke="#c8c8c8" stroke-width="0.4"/>
<line x1="212.00" y1="361.00" x2="212.00" y2="372.85" stroke="rgba(255,255,255,0.75)" stroke-width="0.4"/>
<line x1="227.18" y1="361.00" x2="227.18" y2="372.85" stroke="rgba(255,255,255,0.75)" stroke-width="0.4"/>
<line x1="242.37" y1="361.00" x2="242.37" y2="372.85" stroke="rgba(255,255,255,0.75)" stroke-width="0.4"/>
<line x1="257.55" y1="361.00" x2="257.55" y2="372.85" stroke="rgba(255,255,255,0.75)" stroke-width="0.4"/>
<line x1="272.73" y1="361.00" x2="272.73" y2="372.85" stroke="rgba(255,255,255,0.75)" stroke-width="0.4"/>
<line x1="287.91" y1="361.00" x2="287.91" y2="372.85" stroke="rgba(255,255,255,0.75)" stroke-width="0.4"/>
<line x1="303.10" y1="361.00" x2="303.10" y2="372.85" stroke="rgba(255,255,255,0.75)" stroke-width="0.4"/>
<line x1="318.28" y1="361.00" x2="318.28" y2="372.85" stroke="rgba(255,255,255,0.75)" stroke-width="0.4"/>
<line x1="333.46" y1="361.00" x2="333.46" y2="372.85" stroke="rgba(255,255,255,0.75)" stroke-width="0.4"/>
<line x1="348.65" y1="361.00" x2="348.65" y2="372.85" stroke="rgba(255,255,255,0.75)" stroke-width="0.4"/>
<line x1="363.83" y1="361.00" x2="363.83" y2="372.85" stroke="rgba(255,255,255,0.75)" stroke-width="0.4"/>
<line x1="379.01" y1="361.00" x2="379.01" y2="372.85" stroke="rgba(255,255,255,0.75)" stroke-width="0.4"/>
<line x1="394.20" y1="361.00" x2="394.20" y2="372.85" stroke="rgba(255,255,255,0.75)" stroke-width="0.4"/>
<line x1="409.38" y1="361.00" x2="409.38" y2="373.35" stroke="#c8c8c8" stroke-width="0.4"/>
<line x1="424.56" y1="361.00" x2="424.56" y2="373.35" stroke="#c8c8c8" stroke-width="0.4"/>
<line x1="439.75" y1="361.00" x2="439.75" y2="373.35" stroke="#c8c8c8" stroke-width="0.4"/>
<line x1="454.93" y1="361.00" x2="454.93" y2="373.35" stroke="#c8c8c8" stroke-width="0.4"/>
<line x1="470.11" y1="361.00" x2="470.11" y2="372.85" stroke="rgba(255,255,255,0.75)" stroke-width="0.4"/>
<line x1="485.29" y1="361.00" x2="485.29" y2="372.85" stroke="rgba(255,255,255,0.75)" stroke-width="0.4"/>
<line x1="500.48" y1="361.00" x2="500.48" y2="372.85" stroke="rgba(255,255,255,0.75)" stroke-width="0.4"/>
<line x1="515.66" y1="361.00" x2="515.66" y2="373.35" stroke="#c8c8c8" stroke-width="0.4"/>
<line x1="530.84" y1="361.00" x2="530.84" y2="373.35" stroke="#c8c8c8" stroke-width="0.4"/>
<line x1="546.03" y1="361.00" x2="546.03" y2="373.35" stroke="#c8c8c8" stroke-width="0.4"/>
<line x1="561.21" y1="361.00" x2="561.21" y2="373.35" stroke="#c8c8c8" stroke-width="0.4"/>
<line x1="576.39" y1="361.00" x2="576.39" y2="372.85" stroke="rgba(255,255,255,0.75)" stroke-width="0.4"/>
<line x1="591.58" y1="361.00" x2="591.58" y2="372.85" stroke="rgba(255,255,255,0.75)" stroke-width="0.4"/>
<line x1="606.76" y1="361.00" x2="606.76" y2="372.85" stroke="rgba(255,255,255,0.75)" stroke-width="0.4"/>
<line x1="621.94" y1="361.00" x2="621.94" y2="373.35" stroke="#c8c8c8" stroke-width="0.4"/>
<line x1="637.12" y1="361.00" x2="637.12" y2="373.35" stroke="#c8c8c8" stroke-width="0.4"/>
<line x1="652.31" y1="361.00" x2="652.31" y2="373.35" stroke="#c8c8c8" stroke-width="0.4"/>
<line x1="667.49" y1="361.00" x2="667.49" y2="373.35" stroke="#c8c8c8" stroke-width="0.4"/>
<rect x="42.60" y="376.00" width="169.40" height="11.80" fill="#fff"/>
<rect x="212.00" y="376.00" width="45.55" height="11.80" fill="#FF8000"/>
<rect x="257.55" y="376.00" width="30.37" height="11.80" fill="#D9E2F3"/>
<rect x="287.91" y="376.00" width="75.91" height="11.80" fill="#FF8000"/>
<rect x="363.83" y="376.00" width="30.37" height="11.80" fill="#D9E2F3"/>
<rect x="394.20" y="376.00" width="75.91" height="11.80" fill="#FF8000"/>
<rect x="470.11" y="376.00" width="30.37" height="11.80" fill="#D9E2F3"/>
<rect x="500.48" y="376.00" width="75.91" height="11.80" fill="#FF8000"/>
<rect x="576.39" y="376.00" width="30.37" height="11.80" fill="#D9E2F3"/>
<line x1="42.60" y1="375.50" x2="212.00" y2="375.50" stroke="#c8c8c8" stroke-width="0.4"/>
<line x1="212.00" y1="376.00" x2="606.76" y2="376.00" stroke="rgba(255,255,255,0.75)" stroke-width="0.4"/>
<line x1="606.76" y1="375.50" x2="667.49" y2="375.50" stroke="#c8c8c8" stroke-width="0.4"/>
<line x1="42.60" y1="388.30" x2="212.00" y2="388.30" stroke="#c8c8c8" stroke-width="0.4"/>
<line x1="212.00" y1="387.80" x2="606.76" y2="387.80" stroke="rgba(255,255,255,0.75)" stroke-width="0.4"/>
<line x1="606.76" y1="388.30" x2="667.49" y2="388.30" stroke="#c8c8c8" stroke-width="0.4"/>
<line x1="42.60" y1="375.50" x2="42.60" y2="388.30" stroke="#c8c8c8" stroke-width="0.4"/>
<line x1="212.00" y1="376.00" x2="212.00" y2="387.80" stroke="rgba(255,255,255,0.75)" stroke-width="0.4"/>
<line x1="227.18" y1="376.00" x2="227.18" y2="387.80" stroke="rgba(255,255,255,0.75)" stroke-width="0.4"/>
<line x1="242.37" y1="376.00" x2="242.37" y2="387.80" stroke="rgba(255,255,255,0.75)" stroke-width="0.4"/>
<line x1="257.55" y1="376.00" x2="257.55" y2="387.80" stroke="rgba(255,255,255,0.75)" stroke-width="0.4"/>
<line x1="272.73" y1="376.00" x2="272.73" y2="387.80" stroke="rgba(255,255,255,0.75)" stroke-width="0.4"/>
<line x1="287.91" y1="376.00" x2="287.91" y2="387.80" stroke="rgba(255,255,255,0.75)" stroke-width="0.4"/>
<line x1="303.10" y1="376.00" x2="303.10" y2="387.80" stroke="rgba(255,255,255,0.75)" stroke-width="0.4"/>
<line x1="318.28" y1="376.00" x2="318.28" y2="387.80" stroke="rgba(255,255,255,0.75)" stroke-width="0.4"/>
<line x1="333.46" y1="376.00" x2="333.46" y2="387.80" stroke="rgba(255,255,255,0.75)" stroke-width="0.4"/>
<line x1="348.65" y1="376.00" x2="348.65" y2="387.80" stroke="rgba(255,255,255,0.75)" stroke-width="0.4"/>
<line x1="363.83" y1="376.00" x2="363.83" y2="387.80" stroke="rgba(255,255,255,0.75)" stroke-width="0.4"/>
<line x1="379.01" y1="376.00" x2="379.01" y2="387.80" stroke="rgba(255,255,255,0.75)" stroke-width="0.4"/>
<line x1="394.20" y1="376.00" x2="394.20" y2="387.80" stroke="rgba(255,255,255,0.75)" stroke-width="0.4"/>
<line x1="409.38" y1="376.00" x2="409.38" y2="387.80" stroke="rgba(255,255,255,0.75)" stroke-width="0.4"/>
<line x1="424.56" y1="376.00" x2="424.56" y2="387.80" stroke="rgba(255,255,255,0.75)" stroke-width="0.4"/>
<line x1="439.75" y1="376.00" x2="439.75" y2="387.80" stroke="rgba(255,255,255,0.75)" stroke-width="0.4"/>
<line x1="454.93" y1="376.00" x2="454.93" y2="387.80" stroke="rgba(255,255,255,0.75)" stroke-width="0.4"/>
<line x1="470.11" y1="376.00" x2="470.11" y2="387.80" stroke="rgba(255,255,255,0.75)" stroke-width="0.4"/>
<line x1="485.29" y1="376.00" x2="485.29" y2="387.80" stroke="rgba(255,255,255,0.75)" stroke-width="0.4"/>
<line x1="500.48" y1="376.00" x2="500.48" y2="387.80" stroke="rgba(255,255,255,0.75)" stroke-width="0.4"/>
<line x1="515.66" y1="376.00" x2="515.66" y2="387.80" stroke="rgba(255,255,255,0.75)" stroke-width="0.4"/>
<line x1="530.84" y1="376.00" x2="530.84" y2="387.80" stroke="rgba(255,255,255,0.75)" stroke-width="0.4"/>
<line x1="546.03" y1="376.00" x2="546.03" y2="387.80" stroke="rgba(255,255,255,0.75)" stroke-width="0.4"/>
<line x1="561.21" y1="376.00" x2="561.21" y2="387.80" stroke="rgba(255,255,255,0.75)" stroke-width="0.4"/>
<line x1="576.39" y1="376.00" x2="576.39" y2="387.80" stroke="rgba(255,255,255,0.75)" stroke-width="0.4"/>
<line x1="591.58" y1="376.00" x2="591.58" y2="387.80" stroke="rgba(255,255,255,0.75)" stroke-width="0.4"/>
<line x1="606.76" y1="376.00" x2="606.76" y2="387.80" stroke="rgba(255,255,255,0.75)" stroke-width="0.4"/>
<line x1="621.94" y1="375.50" x2="621.94" y2="388.30" stroke="#c8c8c8" stroke-width="0.4"/>
<line x1="637.12" y1="375.50" x2="637.12" y2="388.30" stroke="#c8c8c8" stroke-width="0.4"/>
<line x1="652.31" y1="375.50" x2="652.31" y2="388.30" stroke="#c8c8c8" stroke-width="0.4"/>
<line x1="667.49" y1="375.50" x2="667.49" y2="388.30" stroke="#c8c8c8" stroke-width="0.4"/>
<rect x="42.60" y="390.90" width="169.40" height="12.00" fill="#fff"/>
<rect x="212.00" y="390.90" width="45.55" height="12.00" fill="#AE3192"/>
<rect x="257.55" y="390.90" width="30.37" height="12.00" fill="#D9E2F3"/>
<rect x="287.91" y="390.90" width="30.37" height="12.00" fill="#AE3192"/>
<rect x="363.83" y="390.90" width="30.37" height="12.00" fill="#D9E2F3"/>
<rect x="470.11" y="390.90" width="30.37" height="12.00" fill="#D9E2F3"/>
<rect x="576.39" y="390.90" width="30.37" height="12.00" fill="#D9E2F3"/>
<line x1="42.60" y1="390.40" x2="212.00" y2="390.40" stroke="#c8c8c8" stroke-width="0.4"/>
<line x1="212.00" y1="390.90" x2="318.28" y2="390.90" stroke="rgba(255,255,255,0.75)" stroke-width="0.4"/>
<line x1="318.28" y1="390.40" x2="363.83" y2="390.40" stroke="#c8c8c8" stroke-width="0.4"/>
<line x1="363.83" y1="390.90" x2="394.20" y2="390.90" stroke="rgba(255,255,255,0.75)" stroke-width="0.4"/>
<line x1="394.20" y1="390.40" x2="470.11" y2="390.40" stroke="#c8c8c8" stroke-width="0.4"/>
<line x1="470.11" y1="390.90" x2="500.48" y2="390.90" stroke="rgba(255,255,255,0.75)" stroke-width="0.4"/>
<line x1="500.48" y1="390.40" x2="576.39" y2="390.40" stroke="#c8c8c8" stroke-width="0.4"/>
<line x1="576.39" y1="390.90" x2="606.76" y2="390.90" stroke="rgba(255,255,255,0.75)" stroke-width="0.4"/>
<line x1="606.76" y1="390.40" x2="667.49" y2="390.40" stroke="#c8c8c8" stroke-width="0.4"/>
<line x1="42.60" y1="403.40" x2="212.00" y2="403.40" stroke="#c8c8c8" stroke-width="0.4"/>
<line x1="212.00" y1="402.90" x2="318.28" y2="402.90" stroke="rgba(255,255,255,0.75)" stroke-width="0.4"/>
<line x1="318.28" y1="403.40" x2="363.83" y2="403.40" stroke="#c8c8c8" stroke-width="0.4"/>
<line x1="363.83" y1="402.90" x2="394.20" y2="402.90" stroke="rgba(255,255,255,0.75)" stroke-width="0.4"/>
<line x1="394.20" y1="403.40" x2="470.11" y2="403.40" stroke="#c8c8c8" stroke-width="0.4"/>
<line x1="470.11" y1="402.90" x2="500.48" y2="402.90" stroke="rgba(255,255,255,0.75)" stroke-width="0.4"/>
<line x1="500.48" y1="403.40" x2="576.39" y2="403.40" stroke="#c8c8c8" stroke-width="0.4"/>
<line x1="576.39" y1="402.90" x2="606.76" y2="402.90" stroke="rgba(255,255,255,0.75)" stroke-width="0.4"/>
<line x1="606.76" y1="403.40" x2="667.49" y2="403.40" stroke="#c8c8c8" stroke-width="0.4"/>
<line x1="42.60" y1="390.40" x2="42.60" y2="403.40" stroke="#c8c8c8" stroke-width="0.4"/>
<line x1="212.00" y1="390.90" x2="212.00" y2="402.90" stroke="rgba(255,255,255,0.75)" stroke-width="0.4"/>
<line x1="227.18" y1="390.90" x2="227.18" y2="402.90" stroke="rgba(255,255,255,0.75)" stroke-width="0.4"/>
<line x1="242.37" y1="390.90" x2="242.37" y2="402.90" stroke="rgba(255,255,255,0.75)" stroke-width="0.4"/>
<line x1="257.55" y1="390.90" x2="257.55" y2="402.90" stroke="rgba(255,255,255,0.75)" stroke-width="0.4"/>
<line x1="272.73" y1="390.90" x2="272.73" y2="402.90" stroke="rgba(255,255,255,0.75)" stroke-width="0.4"/>
<line x1="287.91" y1="390.90" x2="287.91" y2="402.90" stroke="rgba(255,255,255,0.75)" stroke-width="0.4"/>
<line x1="303.10" y1="390.90" x2="303.10" y2="402.90" stroke="rgba(255,255,255,0.75)" stroke-width="0.4"/>
<line x1="318.28" y1="390.90" x2="318.28" y2="402.90" stroke="rgba(255,255,255,0.75)" stroke-width="0.4"/>
<line x1="333.46" y1="390.40" x2="333.46" y2="403.40" stroke="#c8c8c8" stroke-width="0.4"/>
<line x1="348.65" y1="390.40" x2="348.65" y2="403.40" stroke="#c8c8c8" stroke-width="0.4"/>
<line x1="363.83" y1="390.90" x2="363.83" y2="402.90" stroke="rgba(255,255,255,0.75)" stroke-width="0.4"/>
<line x1="379.01" y1="390.90" x2="379.01" y2="402.90" stroke="rgba(255,255,255,0.75)" stroke-width="0.4"/>
<line x1="394.20" y1="390.90" x2="394.20" y2="402.90" stroke="rgba(255,255,255,0.75)" stroke-width="0.4"/>
<line x1="409.38" y1="390.40" x2="409.38" y2="403.40" stroke="#c8c8c8" stroke-width="0.4"/>
<line x1="424.56" y1="390.40" x2="424.56" y2="403.40" stroke="#c8c8c8" stroke-width="0.4"/>
<line x1="439.75" y1="390.40" x2="439.75" y2="403.40" stroke="#c8c8c8" stroke-width="0.4"/>
<line x1="454.93" y1="390.40" x2="454.93" y2="403.40" stroke="#c8c8c8" stroke-width="0.4"/>
<line x1="470.11" y1="390.90" x2="470.11" y2="402.90" stroke="rgba(255,255,255,0.75)" stroke-width="0.4"/>
<line x1="485.29" y1="390.90" x2="485.29" y2="402.90" stroke="rgba(255,255,255,0.75)" stroke-width="0.4"/>
<line x1="500.48" y1="390.90" x2="500.48" y2="402.90" stroke="rgba(255,255,255,0.75)" stroke-width="0.4"/>
<line x1="515.66" y1="390.40" x2="515.66" y2="403.40" stroke="#c8c8c8" stroke-width="0.4"/>
<line x1="530.84" y1="390.40" x2="530.84" y2="403.40" stroke="#c8c8c8" stroke-width="0.4"/>
<line x1="546.03" y1="390.40" x2="546.03" y2="403.40" stroke="#c8c8c8" stroke-width="0.4"/>
<line x1="561.21" y1="390.40" x2="561.21" y2="403.40" stroke="#c8c8c8" stroke-width="0.4"/>
<line x1="576.39" y1="390.90" x2="576.39" y2="402.90" stroke="rgba(255,255,255,0.75)" stroke-width="0.4"/>
<line x1="591.58" y1="390.90" x2="591.58" y2="402.90" stroke="rgba(255,255,255,0.75)" stroke-width="0.4"/>
<line x1="606.76" y1="390.90" x2="606.76" y2="402.90" stroke="rgba(255,255,255,0.75)" stroke-width="0.4"/>
<line x1="621.94" y1="390.40" x2="621.94" y2="403.40" stroke="#c8c8c8" stroke-width="0.4"/>
<line x1="637.12" y1="390.40" x2="637.12" y2="403.40" stroke="#c8c8c8" stroke-width="0.4"/>
<line x1="652.31" y1="390.40" x2="652.31" y2="403.40" stroke="#c8c8c8" stroke-width="0.4"/>
<line x1="667.49" y1="390.40" x2="667.49" y2="403.40" stroke="#c8c8c8" stroke-width="0.4"/>
</svg>
<div class="t title" style="left:112.8px;top:15.2px;width:1708.3px;height:32.3px;line-height:32.3px;">JUNIO</div>
<div class="t num" style="left:565.3px;top:78.9px;width:40.5px;height:33.1px;line-height:33.1px;">01</div>
<div class="t num" style="left:605.8px;top:78.9px;width:40.5px;height:33.1px;line-height:33.1px;">02</div>
<div class="t num" style="left:646.3px;top:78.9px;width:40.5px;height:33.1px;line-height:33.1px;">03</div>
<div class="t num" style="left:686.8px;top:78.9px;width:40.5px;height:33.1px;line-height:33.1px;">04</div>
<div class="t num" style="left:727.3px;top:78.9px;width:40.5px;height:33.1px;line-height:33.1px;">05</div>
<div class="t num" style="left:767.8px;top:78.9px;width:40.5px;height:33.1px;line-height:33.1px;">06</div>
<div class="t num" style="left:808.3px;top:78.9px;width:40.5px;height:33.1px;line-height:33.1px;">07</div>
<div class="t num" style="left:848.7px;top:78.9px;width:40.5px;height:33.1px;line-height:33.1px;">08</div>
<div class="t num" style="left:889.2px;top:78.9px;width:40.5px;height:33.1px;line-height:33.1px;">09</div>
<div class="t num" style="left:929.7px;top:78.9px;width:40.5px;height:33.1px;line-height:33.1px;">10</div>
<div class="t num" style="left:970.2px;top:78.9px;width:40.5px;height:33.1px;line-height:33.1px;">11</div>
<div class="t num" style="left:1010.7px;top:78.9px;width:40.5px;height:33.1px;line-height:33.1px;">12</div>
<div class="t num" style="left:1051.2px;top:78.9px;width:40.5px;height:33.1px;line-height:33.1px;">13</div>
<div class="t num" style="left:1091.7px;top:78.9px;width:40.5px;height:33.1px;line-height:33.1px;">14</div>
<div class="t num" style="left:1132.2px;top:78.9px;width:40.5px;height:33.1px;line-height:33.1px;">15</div>
<div class="t num" style="left:1172.7px;top:78.9px;width:40.5px;height:33.1px;line-height:33.1px;">16</div>
<div class="t num" style="left:1213.1px;top:78.9px;width:40.5px;height:33.1px;line-height:33.1px;">17</div>
<div class="t num" style="left:1253.6px;top:78.9px;width:40.5px;height:33.1px;line-height:33.1px;">18</div>
<div class="t num" style="left:1294.1px;top:78.9px;width:40.5px;height:33.1px;line-height:33.1px;">19</div>
<div class="t num" style="left:1334.6px;top:78.9px;width:40.5px;height:33.1px;line-height:33.1px;">20</div>
<div class="t num" style="left:1375.1px;top:78.9px;width:40.5px;height:33.1px;line-height:33.1px;">21</div>
<div class="t num" style="left:1415.6px;top:78.9px;width:40.5px;height:33.1px;line-height:33.1px;">22</div>
<div class="t num" style="left:1456.1px;top:78.9px;width:40.5px;height:33.1px;line-height:33.1px;">23</div>
<div class="t num" style="left:1496.6px;top:78.9px;width:40.5px;height:33.1px;line-height:33.1px;">24</div>
<div class="t num" style="left:1537.0px;top:78.9px;width:40.5px;height:33.1px;line-height:33.1px;">25</div>
<div class="t num" style="left:1577.5px;top:78.9px;width:40.5px;height:33.1px;line-height:33.1px;">26</div>
<div class="t num" style="left:1618.0px;top:78.9px;width:40.5px;height:33.1px;line-height:33.1px;">27</div>
<div class="t num" style="left:1658.5px;top:78.9px;width:40.5px;height:33.1px;line-height:33.1px;">28</div>
<div class="t num" style="left:1699.0px;top:78.9px;width:40.5px;height:33.1px;line-height:33.1px;">29</div>
<div class="t num" style="left:1739.5px;top:78.9px;width:40.5px;height:33.1px;line-height:33.1px;">30</div>
<div class="t dn" style="left:565.3px;top:112.0px;width:40.5px;height:32.0px;line-height:32.0px;">Mar</div>
<div class="t dn" style="left:605.8px;top:112.0px;width:40.5px;height:32.0px;line-height:32.0px;">Mie</div>
<div class="t dn" style="left:646.3px;top:112.0px;width:40.5px;height:32.0px;line-height:32.0px;">Jue</div>
<div class="t dn" style="left:686.8px;top:112.0px;width:40.5px;height:32.0px;line-height:32.0px;">Vie</div>
<div class="t dn we" style="left:727.3px;top:112.0px;width:40.5px;height:32.0px;line-height:32.0px;">Sab</div>
<div class="t dn we" style="left:767.8px;top:112.0px;width:40.5px;height:32.0px;line-height:32.0px;">Dom</div>
<div class="t dn" style="left:808.3px;top:112.0px;width:40.5px;height:32.0px;line-height:32.0px;">Lun</div>
<div class="t dn" style="left:848.7px;top:112.0px;width:40.5px;height:32.0px;line-height:32.0px;">Mar</div>
<div class="t dn" style="left:889.2px;top:112.0px;width:40.5px;height:32.0px;line-height:32.0px;">Mie</div>
<div class="t dn" style="left:929.7px;top:112.0px;width:40.5px;height:32.0px;line-height:32.0px;">Jue</div>
<div class="t dn" style="left:970.2px;top:112.0px;width:40.5px;height:32.0px;line-height:32.0px;">Vie</div>
<div class="t dn we" style="left:1010.7px;top:112.0px;width:40.5px;height:32.0px;line-height:32.0px;">Sab</div>
<div class="t dn we" style="left:1051.2px;top:112.0px;width:40.5px;height:32.0px;line-height:32.0px;">Dom</div>
<div class="t dn" style="left:1091.7px;top:112.0px;width:40.5px;height:32.0px;line-height:32.0px;">Lun</div>
<div class="t dn" style="left:1132.2px;top:112.0px;width:40.5px;height:32.0px;line-height:32.0px;">Mar</div>
<div class="t dn" style="left:1172.7px;top:112.0px;width:40.5px;height:32.0px;line-height:32.0px;">Mie</div>
<div class="t dn" style="left:1213.1px;top:112.0px;width:40.5px;height:32.0px;line-height:32.0px;">Jue</div>
<div class="t dn" style="left:1253.6px;top:112.0px;width:40.5px;height:32.0px;line-height:32.0px;">Vie</div>
<div class="t dn we" style="left:1294.1px;top:112.0px;width:40.5px;height:32.0px;line-height:32.0px;">Sab</div>
<div class="t dn we" style="left:1334.6px;top:112.0px;width:40.5px;height:32.0px;line-height:32.0px;">Dom</div>
<div class="t dn" style="left:1375.1px;top:112.0px;width:40.5px;height:32.0px;line-height:32.0px;">Lun</div>
<div class="t dn" style="left:1415.6px;top:112.0px;width:40.5px;height:32.0px;line-height:32.0px;">Mar</div>
<div class="t dn" style="left:1456.1px;top:112.0px;width:40.5px;height:32.0px;line-height:32.0px;">Mie</div>
<div class="t dn" style="left:1496.6px;top:112.0px;width:40.5px;height:32.0px;line-height:32.0px;">Jue</div>
<div class="t dn" style="left:1537.0px;top:112.0px;width:40.5px;height:32.0px;line-height:32.0px;">Vie</div>
<div class="t dn we" style="left:1577.5px;top:112.0px;width:40.5px;height:32.0px;line-height:32.0px;">Sab</div>
<div class="t dn we" style="left:1618.0px;top:112.0px;width:40.5px;height:32.0px;line-height:32.0px;">Dom</div>
<div class="t dn" style="left:1658.5px;top:112.0px;width:40.5px;height:32.0px;line-height:32.0px;">Lun</div>
<div class="t dn" style="left:1699.0px;top:112.0px;width:40.5px;height:32.0px;line-height:32.0px;">Mar</div>
<div class="t dn" style="left:1739.5px;top:112.0px;width:40.5px;height:32.0px;line-height:32.0px;">Mie</div>
<div class="t lab" style="left:112.8px;top:144.0px;width:452.5px;height:32.5px;line-height:32.5px;">Linea 12 - Hospital de Móstoles - Conservatorio</div>
<div class="t title" style="left:112.8px;top:209.6px;width:1708.3px;height:33.1px;line-height:33.1px;">JULIO</div>
<div class="t num" style="left:565.3px;top:274.9px;width:40.5px;height:34.9px;line-height:34.9px;">01</div>
<div class="t num" style="left:605.8px;top:274.9px;width:40.5px;height:34.9px;line-height:34.9px;">02</div>
<div class="t num" style="left:646.3px;top:274.9px;width:40.5px;height:34.9px;line-height:34.9px;">03</div>
<div class="t num" style="left:686.8px;top:274.9px;width:40.5px;height:34.9px;line-height:34.9px;">04</div>
<div class="t num" style="left:727.3px;top:274.9px;width:40.5px;height:34.9px;line-height:34.9px;">05</div>
<div class="t num" style="left:767.8px;top:274.9px;width:40.5px;height:34.9px;line-height:34.9px;">06</div>
<div class="t num" style="left:808.3px;top:274.9px;width:40.5px;height:34.9px;line-height:34.9px;">07</div>
<div class="t num" style="left:848.7px;top:274.9px;width:40.5px;height:34.9px;line-height:34.9px;">08</div>
<div class="t num" style="left:889.2px;top:274.9px;width:40.5px;height:34.9px;line-height:34.9px;">09</div>
<div class="t num" style="left:929.7px;top:274.9px;width:40.5px;height:34.9px;line-height:34.9px;">10</div>
<div class="t num" style="left:970.2px;top:274.9px;width:40.5px;height:34.9px;line-height:34.9px;">11</div>
<div class="t num" style="left:1010.7px;top:274.9px;width:40.5px;height:34.9px;line-height:34.9px;">12</div>
<div class="t num" style="left:1051.2px;top:274.9px;width:40.5px;height:34.9px;line-height:34.9px;">13</div>
<div class="t num" style="left:1091.7px;top:274.9px;width:40.5px;height:34.9px;line-height:34.9px;">14</div>
<div class="t num" style="left:1132.2px;top:274.9px;width:40.5px;height:34.9px;line-height:34.9px;">15</div>
<div class="t num" style="left:1172.7px;top:274.9px;width:40.5px;height:34.9px;line-height:34.9px;">16</div>
<div class="t num" style="left:1213.1px;top:274.9px;width:40.5px;height:34.9px;line-height:34.9px;">17</div>
<div class="t num" style="left:1253.6px;top:274.9px;width:40.5px;height:34.9px;line-height:34.9px;">18</div>
<div class="t num" style="left:1294.1px;top:274.9px;width:40.5px;height:34.9px;line-height:34.9px;">19</div>
<div class="t num" style="left:1334.6px;top:274.9px;width:40.5px;height:34.9px;line-height:34.9px;">20</div>
<div class="t num" style="left:1375.1px;top:274.9px;width:40.5px;height:34.9px;line-height:34.9px;">21</div>
<div class="t num" style="left:1415.6px;top:274.9px;width:40.5px;height:34.9px;line-height:34.9px;">22</div>
<div class="t num" style="left:1456.1px;top:274.9px;width:40.5px;height:34.9px;line-height:34.9px;">23</div>
<div class="t num" style="left:1496.6px;top:274.9px;width:40.5px;height:34.9px;line-height:34.9px;">24</div>
<div class="t num" style="left:1537.0px;top:274.9px;width:40.5px;height:34.9px;line-height:34.9px;">25</div>
<div class="t num" style="left:1577.5px;top:274.9px;width:40.5px;height:34.9px;line-height:34.9px;">26</div>
<div class="t num" style="left:1618.0px;top:274.9px;width:40.5px;height:34.9px;line-height:34.9px;">27</div>
<div class="t num" style="left:1658.5px;top:274.9px;width:40.5px;height:34.9px;line-height:34.9px;">28</div>
<div class="t num" style="left:1699.0px;top:274.9px;width:40.5px;height:34.9px;line-height:34.9px;">29</div>
<div class="t num" style="left:1739.5px;top:274.9px;width:40.5px;height:34.9px;line-height:34.9px;">30</div>
<div class="t num" style="left:1780.0px;top:274.9px;width:40.5px;height:34.9px;line-height:34.9px;">31</div>
<div class="t dn" style="left:565.3px;top:309.9px;width:40.5px;height:33.1px;line-height:33.1px;">Jue</div>
<div class="t dn" style="left:605.8px;top:309.9px;width:40.5px;height:33.1px;line-height:33.1px;">Vie</div>
<div class="t dn we" style="left:646.3px;top:309.9px;width:40.5px;height:33.1px;line-height:33.1px;">Sab</div>
<div class="t dn we" style="left:686.8px;top:309.9px;width:40.5px;height:33.1px;line-height:33.1px;">Dom</div>
<div class="t dn" style="left:727.3px;top:309.9px;width:40.5px;height:33.1px;line-height:33.1px;">Lun</div>
<div class="t dn" style="left:767.8px;top:309.9px;width:40.5px;height:33.1px;line-height:33.1px;">Mar</div>
<div class="t dn" style="left:808.3px;top:309.9px;width:40.5px;height:33.1px;line-height:33.1px;">Mie</div>
<div class="t dn" style="left:848.7px;top:309.9px;width:40.5px;height:33.1px;line-height:33.1px;">Jue</div>
<div class="t dn" style="left:889.2px;top:309.9px;width:40.5px;height:33.1px;line-height:33.1px;">Vie</div>
<div class="t dn we" style="left:929.7px;top:309.9px;width:40.5px;height:33.1px;line-height:33.1px;">Sab</div>
<div class="t dn we" style="left:970.2px;top:309.9px;width:40.5px;height:33.1px;line-height:33.1px;">Dom</div>
<div class="t dn" style="left:1010.7px;top:309.9px;width:40.5px;height:33.1px;line-height:33.1px;">Lun</div>
<div class="t dn" style="left:1051.2px;top:309.9px;width:40.5px;height:33.1px;line-height:33.1px;">Mar</div>
<div class="t dn" style="left:1091.7px;top:309.9px;width:40.5px;height:33.1px;line-height:33.1px;">Mie</div>
<div class="t dn" style="left:1132.2px;top:309.9px;width:40.5px;height:33.1px;line-height:33.1px;">Jue</div>
<div class="t dn" style="left:1172.7px;top:309.9px;width:40.5px;height:33.1px;line-height:33.1px;">Vie</div>
<div class="t dn we" style="left:1213.1px;top:309.9px;width:40.5px;height:33.1px;line-height:33.1px;">Sab</div>
<div class="t dn we" style="left:1253.6px;top:309.9px;width:40.5px;height:33.1px;line-height:33.1px;">Dom</div>
<div class="t dn" style="left:1294.1px;top:309.9px;width:40.5px;height:33.1px;line-height:33.1px;">Lun</div>
<div class="t dn" style="left:1334.6px;top:309.9px;width:40.5px;height:33.1px;line-height:33.1px;">Mar</div>
<div class="t dn" style="left:1375.1px;top:309.9px;width:40.5px;height:33.1px;line-height:33.1px;">Mie</div>
<div class="t dn" style="left:1415.6px;top:309.9px;width:40.5px;height:33.1px;line-height:33.1px;">Jue</div>
<div class="t dn" style="left:1456.1px;top:309.9px;width:40.5px;height:33.1px;line-height:33.1px;">Vie</div>
<div class="t dn we" style="left:1496.6px;top:309.9px;width:40.5px;height:33.1px;line-height:33.1px;">Sab</div>
<div class="t dn we" style="left:1537.0px;top:309.9px;width:40.5px;height:33.1px;line-height:33.1px;">Dom</div>
<div class="t dn" style="left:1577.5px;top:309.9px;width:40.5px;height:33.1px;line-height:33.1px;">Lun</div>
<div class="t dn" style="left:1618.0px;top:309.9px;width:40.5px;height:33.1px;line-height:33.1px;">Mar</div>
<div class="t dn" style="left:1658.5px;top:309.9px;width:40.5px;height:33.1px;line-height:33.1px;">Mie</div>
<div class="t dn" style="left:1699.0px;top:309.9px;width:40.5px;height:33.1px;line-height:33.1px;">Jue</div>
<div class="t dn" style="left:1739.5px;top:309.9px;width:40.5px;height:33.1px;line-height:33.1px;">Vie</div>
<div class="t dn we" style="left:1780.0px;top:309.9px;width:40.5px;height:33.1px;line-height:33.1px;">Sab</div>
<div class="t lab" style="left:112.8px;top:342.9px;width:452.5px;height:34.9px;line-height:34.9px;">Linea 12 - Hospital de Móstoles - Conservatorio</div>
<div class="t lab" style="left:112.8px;top:385.6px;width:452.5px;height:33.6px;line-height:33.6px;">Linea 6 - Sainz de Baranda - Pacífico</div>
<div class="t lab" style="left:112.8px;top:427.2px;width:452.5px;height:34.7px;line-height:34.7px;">Linea 7 - La Rambla - Hospital del Henares</div>
<div class="t lab" style="left:112.8px;top:469.3px;width:452.5px;height:33.9px;line-height:33.9px;">Linea 9 - Arganda del Rey - La Poveda (TFM)</div>
<div class="t title" style="left:112.8px;top:536.8px;width:1708.3px;height:32.5px;line-height:32.5px;">AGOSTO</div>
<div class="t num" style="left:565.3px;top:599.6px;width:40.5px;height:33.5px;line-height:33.5px;">01</div>
<div class="t num" style="left:605.8px;top:599.6px;width:40.5px;height:33.5px;line-height:33.5px;">02</div>
<div class="t num" style="left:646.3px;top:599.6px;width:40.5px;height:33.5px;line-height:33.5px;">03</div>
<div class="t num" style="left:686.8px;top:599.6px;width:40.5px;height:33.5px;line-height:33.5px;">04</div>
<div class="t num" style="left:727.3px;top:599.6px;width:40.5px;height:33.5px;line-height:33.5px;">05</div>
<div class="t num" style="left:767.8px;top:599.6px;width:40.5px;height:33.5px;line-height:33.5px;">06</div>
<div class="t num" style="left:808.3px;top:599.6px;width:40.5px;height:33.5px;line-height:33.5px;">07</div>
<div class="t num" style="left:848.7px;top:599.6px;width:40.5px;height:33.5px;line-height:33.5px;">08</div>
<div class="t num" style="left:889.2px;top:599.6px;width:40.5px;height:33.5px;line-height:33.5px;">09</div>
<div class="t num" style="left:929.7px;top:599.6px;width:40.5px;height:33.5px;line-height:33.5px;">10</div>
<div class="t num" style="left:970.2px;top:599.6px;width:40.5px;height:33.5px;line-height:33.5px;">11</div>
<div class="t num" style="left:1010.7px;top:599.6px;width:40.5px;height:33.5px;line-height:33.5px;">12</div>
<div class="t num" style="left:1051.2px;top:599.6px;width:40.5px;height:33.5px;line-height:33.5px;">13</div>
<div class="t num" style="left:1091.7px;top:599.6px;width:40.5px;height:33.5px;line-height:33.5px;">14</div>
<div class="t num" style="left:1132.2px;top:599.6px;width:40.5px;height:33.5px;line-height:33.5px;">15</div>
<div class="t num" style="left:1172.7px;top:599.6px;width:40.5px;height:33.5px;line-height:33.5px;">16</div>
<div class="t num" style="left:1213.1px;top:599.6px;width:40.5px;height:33.5px;line-height:33.5px;">17</div>
<div class="t num" style="left:1253.6px;top:599.6px;width:40.5px;height:33.5px;line-height:33.5px;">18</div>
<div class="t num" style="left:1294.1px;top:599.6px;width:40.5px;height:33.5px;line-height:33.5px;">19</div>
<div class="t num" style="left:1334.6px;top:599.6px;width:40.5px;height:33.5px;line-height:33.5px;">20</div>
<div class="t num" style="left:1375.1px;top:599.6px;width:40.5px;height:33.5px;line-height:33.5px;">21</div>
<div class="t num" style="left:1415.6px;top:599.6px;width:40.5px;height:33.5px;line-height:33.5px;">22</div>
<div class="t num" style="left:1456.1px;top:599.6px;width:40.5px;height:33.5px;line-height:33.5px;">23</div>
<div class="t num" style="left:1496.6px;top:599.6px;width:40.5px;height:33.5px;line-height:33.5px;">24</div>
<div class="t num" style="left:1537.0px;top:599.6px;width:40.5px;height:33.5px;line-height:33.5px;">25</div>
<div class="t num" style="left:1577.5px;top:599.6px;width:40.5px;height:33.5px;line-height:33.5px;">26</div>
<div class="t num" style="left:1618.0px;top:599.6px;width:40.5px;height:33.5px;line-height:33.5px;">27</div>
<div class="t num" style="left:1658.5px;top:599.6px;width:40.5px;height:33.5px;line-height:33.5px;">28</div>
<div class="t num" style="left:1699.0px;top:599.6px;width:40.5px;height:33.5px;line-height:33.5px;">29</div>
<div class="t num" style="left:1739.5px;top:599.6px;width:40.5px;height:33.5px;line-height:33.5px;">30</div>
<div class="t num" style="left:1780.0px;top:599.6px;width:40.5px;height:33.5px;line-height:33.5px;">31</div>
<div class="t dn we" style="left:565.3px;top:634.0px;width:40.5px;height:30.3px;line-height:30.3px;">Dom</div>
<div class="t dn" style="left:605.8px;top:634.0px;width:40.5px;height:30.3px;line-height:30.3px;">Lun</div>
<div class="t dn" style="left:646.3px;top:634.0px;width:40.5px;height:30.3px;line-height:30.3px;">Mar</div>
<div class="t dn" style="left:686.8px;top:634.0px;width:40.5px;height:30.3px;line-height:30.3px;">Mie</div>
<div class="t dn" style="left:727.3px;top:634.0px;width:40.5px;height:30.3px;line-height:30.3px;">Jue</div>
<div class="t dn" style="left:767.8px;top:634.0px;width:40.5px;height:30.3px;line-height:30.3px;">Vie</div>
<div class="t dn we" style="left:808.3px;top:634.0px;width:40.5px;height:30.3px;line-height:30.3px;">Sab</div>
<div class="t dn we" style="left:848.7px;top:634.0px;width:40.5px;height:30.3px;line-height:30.3px;">Dom</div>
<div class="t dn" style="left:889.2px;top:634.0px;width:40.5px;height:30.3px;line-height:30.3px;">Lun</div>
<div class="t dn" style="left:929.7px;top:634.0px;width:40.5px;height:30.3px;line-height:30.3px;">Mar</div>
<div class="t dn" style="left:970.2px;top:634.0px;width:40.5px;height:30.3px;line-height:30.3px;">Mie</div>
<div class="t dn" style="left:1010.7px;top:634.0px;width:40.5px;height:30.3px;line-height:30.3px;">Jue</div>
<div class="t dn" style="left:1051.2px;top:634.0px;width:40.5px;height:30.3px;line-height:30.3px;">Vie</div>
<div class="t dn we" style="left:1091.7px;top:634.0px;width:40.5px;height:30.3px;line-height:30.3px;">Sab</div>
<div class="t dn we" style="left:1132.2px;top:634.0px;width:40.5px;height:30.3px;line-height:30.3px;">Dom</div>
<div class="t dn" style="left:1172.7px;top:634.0px;width:40.5px;height:30.3px;line-height:30.3px;">Lun</div>
<div class="t dn" style="left:1213.1px;top:634.0px;width:40.5px;height:30.3px;line-height:30.3px;">Mar</div>
<div class="t dn" style="left:1253.6px;top:634.0px;width:40.5px;height:30.3px;line-height:30.3px;">Mie</div>
<div class="t dn" style="left:1294.1px;top:634.0px;width:40.5px;height:30.3px;line-height:30.3px;">Jue</div>
<div class="t dn" style="left:1334.6px;top:634.0px;width:40.5px;height:30.3px;line-height:30.3px;">Vie</div>
<div class="t dn we" style="left:1375.1px;top:634.0px;width:40.5px;height:30.3px;line-height:30.3px;">Sab</div>
<div class="t dn we" style="left:1415.6px;top:634.0px;width:40.5px;height:30.3px;line-height:30.3px;">Dom</div>
<div class="t dn" style="left:1456.1px;top:634.0px;width:40.5px;height:30.3px;line-height:30.3px;">Lun</div>
<div class="t dn" style="left:1496.6px;top:634.0px;width:40.5px;height:30.3px;line-height:30.3px;">Mar</div>
<div class="t dn" style="left:1537.0px;top:634.0px;width:40.5px;height:30.3px;line-height:30.3px;">Mie</div>
<div class="t dn" style="left:1577.5px;top:634.0px;width:40.5px;height:30.3px;line-height:30.3px;">Jue</div>
<div class="t dn" style="left:1618.0px;top:634.0px;width:40.5px;height:30.3px;line-height:30.3px;">Vie</div>
<div class="t dn we" style="left:1658.5px;top:634.0px;width:40.5px;height:30.3px;line-height:30.3px;">Sab</div>
<div class="t dn we" style="left:1699.0px;top:634.0px;width:40.5px;height:30.3px;line-height:30.3px;">Dom</div>
<div class="t dn" style="left:1739.5px;top:634.0px;width:40.5px;height:30.3px;line-height:30.3px;">Lun</div>
<div class="t dn" style="left:1780.0px;top:634.0px;width:40.5px;height:30.3px;line-height:30.3px;">Mar</div>
<div class="t lab" style="left:112.8px;top:664.3px;width:452.5px;height:31.5px;line-height:31.5px;">Linea 12 - Hospital de Móstoles - Conservatorio</div>
<div class="t lab" style="left:112.8px;top:704.0px;width:452.5px;height:30.1px;line-height:30.1px;">Linea 7 - La Rambla - Hospital del Henares</div>
<div class="t lab" style="left:112.8px;top:741.9px;width:452.5px;height:30.9px;line-height:30.9px;">Linea 9 - Colombia - Plaza de Castilla</div>
<div class="t lab" style="left:112.8px;top:772.8px;width:452.5px;height:31.2px;line-height:31.2px;">Linea 9 - Arganda del Rey - La Poveda (TFM)</div>
<div class="t title" style="left:112.8px;top:833.3px;width:1708.3px;height:34.4px;line-height:34.4px;">SEPTIEMBRE</div>
<div class="t num" style="left:565.3px;top:897.3px;width:40.5px;height:33.3px;line-height:33.3px;">01</div>
<div class="t num" style="left:605.8px;top:897.3px;width:40.5px;height:33.3px;line-height:33.3px;">02</div>
<div class="t num" style="left:646.3px;top:897.3px;width:40.5px;height:33.3px;line-height:33.3px;">03</div>
<div class="t num" style="left:686.8px;top:897.3px;width:40.5px;height:33.3px;line-height:33.3px;">04</div>
<div class="t num" style="left:727.3px;top:897.3px;width:40.5px;height:33.3px;line-height:33.3px;">05</div>
<div class="t num" style="left:767.8px;top:897.3px;width:40.5px;height:33.3px;line-height:33.3px;">06</div>
<div class="t num" style="left:808.3px;top:897.3px;width:40.5px;height:33.3px;line-height:33.3px;">07</div>
<div class="t num" style="left:848.7px;top:897.3px;width:40.5px;height:33.3px;line-height:33.3px;">08</div>
<div class="t num" style="left:889.2px;top:897.3px;width:40.5px;height:33.3px;line-height:33.3px;">09</div>
<div class="t num" style="left:929.7px;top:897.3px;width:40.5px;height:33.3px;line-height:33.3px;">10</div>
<div class="t num" style="left:970.2px;top:897.3px;width:40.5px;height:33.3px;line-height:33.3px;">11</div>
<div class="t num" style="left:1010.7px;top:897.3px;width:40.5px;height:33.3px;line-height:33.3px;">12</div>
<div class="t num" style="left:1051.2px;top:897.3px;width:40.5px;height:33.3px;line-height:33.3px;">13</div>
<div class="t num" style="left:1091.7px;top:897.3px;width:40.5px;height:33.3px;line-height:33.3px;">14</div>
<div class="t num" style="left:1132.2px;top:897.3px;width:40.5px;height:33.3px;line-height:33.3px;">15</div>
<div class="t num" style="left:1172.7px;top:897.3px;width:40.5px;height:33.3px;line-height:33.3px;">16</div>
<div class="t num" style="left:1213.1px;top:897.3px;width:40.5px;height:33.3px;line-height:33.3px;">17</div>
<div class="t num" style="left:1253.6px;top:897.3px;width:40.5px;height:33.3px;line-height:33.3px;">18</div>
<div class="t num" style="left:1294.1px;top:897.3px;width:40.5px;height:33.3px;line-height:33.3px;">19</div>
<div class="t num" style="left:1334.6px;top:897.3px;width:40.5px;height:33.3px;line-height:33.3px;">20</div>
<div class="t num" style="left:1375.1px;top:897.3px;width:40.5px;height:33.3px;line-height:33.3px;">21</div>
<div class="t num" style="left:1415.6px;top:897.3px;width:40.5px;height:33.3px;line-height:33.3px;">22</div>
<div class="t num" style="left:1456.1px;top:897.3px;width:40.5px;height:33.3px;line-height:33.3px;">23</div>
<div class="t num" style="left:1496.6px;top:897.3px;width:40.5px;height:33.3px;line-height:33.3px;">24</div>
<div class="t num" style="left:1537.0px;top:897.3px;width:40.5px;height:33.3px;line-height:33.3px;">25</div>
<div class="t num" style="left:1577.5px;top:897.3px;width:40.5px;height:33.3px;line-height:33.3px;">26</div>
<div class="t num" style="left:1618.0px;top:897.3px;width:40.5px;height:33.3px;line-height:33.3px;">27</div>
<div class="t num" style="left:1658.5px;top:897.3px;width:40.5px;height:33.3px;line-height:33.3px;">28</div>
<div class="t num" style="left:1699.0px;top:897.3px;width:40.5px;height:33.3px;line-height:33.3px;">29</div>
<div class="t num" style="left:1739.5px;top:897.3px;width:40.5px;height:33.3px;line-height:33.3px;">30</div>
<div class="t dn" style="left:565.3px;top:930.7px;width:40.5px;height:32.0px;line-height:32.0px;">Mie</div>
<div class="t dn" style="left:605.8px;top:930.7px;width:40.5px;height:32.0px;line-height:32.0px;">Jue</div>
<div class="t dn" style="left:646.3px;top:930.7px;width:40.5px;height:32.0px;line-height:32.0px;">Vie</div>
<div class="t dn we" style="left:686.8px;top:930.7px;width:40.5px;height:32.0px;line-height:32.0px;">Sab</div>
<div class="t dn we" style="left:727.3px;top:930.7px;width:40.5px;height:32.0px;line-height:32.0px;">Dom</div>
<div class="t dn" style="left:767.8px;top:930.7px;width:40.5px;height:32.0px;line-height:32.0px;">Lun</div>
<div class="t dn" style="left:808.3px;top:930.7px;width:40.5px;height:32.0px;line-height:32.0px;">Mar</div>
<div class="t dn" style="left:848.7px;top:930.7px;width:40.5px;height:32.0px;line-height:32.0px;">Mie</div>
<div class="t dn" style="left:889.2px;top:930.7px;width:40.5px;height:32.0px;line-height:32.0px;">Jue</div>
<div class="t dn" style="left:929.7px;top:930.7px;width:40.5px;height:32.0px;line-height:32.0px;">Vie</div>
<div class="t dn we" style="left:970.2px;top:930.7px;width:40.5px;height:32.0px;line-height:32.0px;">Sab</div>
<div class="t dn we" style="left:1010.7px;top:930.7px;width:40.5px;height:32.0px;line-height:32.0px;">Dom</div>
<div class="t dn" style="left:1051.2px;top:930.7px;width:40.5px;height:32.0px;line-height:32.0px;">Lun</div>
<div class="t dn" style="left:1091.7px;top:930.7px;width:40.5px;height:32.0px;line-height:32.0px;">Mar</div>
<div class="t dn" style="left:1132.2px;top:930.7px;width:40.5px;height:32.0px;line-height:32.0px;">Mie</div>
<div class="t dn" style="left:1172.7px;top:930.7px;width:40.5px;height:32.0px;line-height:32.0px;">Jue</div>
<div class="t dn" style="left:1213.1px;top:930.7px;width:40.5px;height:32.0px;line-height:32.0px;">Vie</div>
<div class="t dn we" style="left:1253.6px;top:930.7px;width:40.5px;height:32.0px;line-height:32.0px;">Sab</div>
<div class="t dn we" style="left:1294.1px;top:930.7px;width:40.5px;height:32.0px;line-height:32.0px;">Dom</div>
<div class="t dn" style="left:1334.6px;top:930.7px;width:40.5px;height:32.0px;line-height:32.0px;">Lun</div>
<div class="t dn" style="left:1375.1px;top:930.7px;width:40.5px;height:32.0px;line-height:32.0px;">Mar</div>
<div class="t dn" style="left:1415.6px;top:930.7px;width:40.5px;height:32.0px;line-height:32.0px;">Mie</div>
<div class="t dn" style="left:1456.1px;top:930.7px;width:40.5px;height:32.0px;line-height:32.0px;">Jue</div>
<div class="t dn" style="left:1496.6px;top:930.7px;width:40.5px;height:32.0px;line-height:32.0px;">Vie</div>
<div class="t dn we" style="left:1537.0px;top:930.7px;width:40.5px;height:32.0px;line-height:32.0px;">Sab</div>
<div class="t dn we" style="left:1577.5px;top:930.7px;width:40.5px;height:32.0px;line-height:32.0px;">Dom</div>
<div class="t dn" style="left:1618.0px;top:930.7px;width:40.5px;height:32.0px;line-height:32.0px;">Lun</div>
<div class="t dn" style="left:1658.5px;top:930.7px;width:40.5px;height:32.0px;line-height:32.0px;">Mar</div>
<div class="t dn" style="left:1699.0px;top:930.7px;width:40.5px;height:32.0px;line-height:32.0px;">Mie</div>
<div class="t dn" style="left:1739.5px;top:930.7px;width:40.5px;height:32.0px;line-height:32.0px;">Jue</div>
<div class="t lab" style="left:112.8px;top:962.7px;width:452.5px;height:31.6px;line-height:31.6px;">Linea 12 - Hospital de Móstoles - Conservatorio</div>
<div class="t lab" style="left:112.8px;top:1002.7px;width:452.5px;height:31.5px;line-height:31.5px;">Linea 7 - La Rambla - Hospital del Henares</div>
<div class="t lab" style="left:112.8px;top:1042.4px;width:452.5px;height:32.0px;line-height:32.0px;">Linea 9 - Arganda del Rey - La Poveda (TFM)</div>
</div></div>
</body></html>
